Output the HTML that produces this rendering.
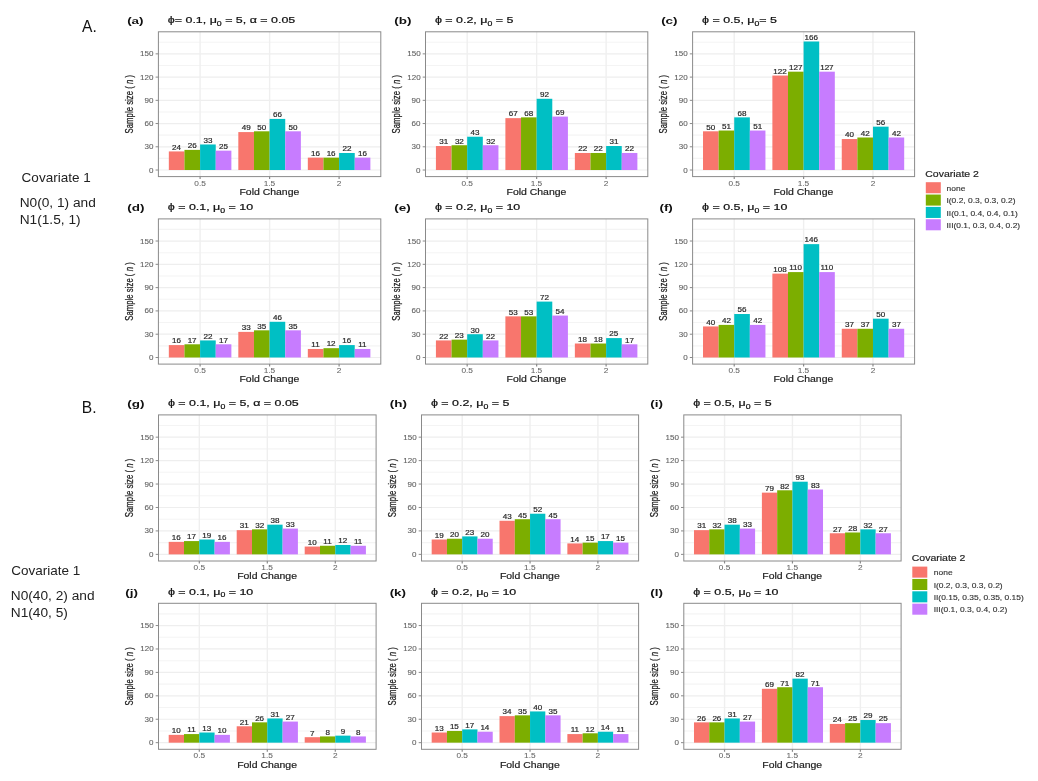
<!DOCTYPE html>
<html><head><meta charset="utf-8"><style>
html,body{margin:0;padding:0;background:#fff;width:1038px;height:781px;overflow:hidden;}
body{position:relative;font-family:"Liberation Sans", sans-serif;}
</style></head><body>
<svg width="1038" height="781" viewBox="0 0 1038 781" style="position:absolute;left:0;top:0;will-change:transform;font-family:'Liberation Sans', sans-serif">
<rect width="1038" height="781" fill="#fff"/>
<rect x="158.4" y="31.8" width="222.4" height="144.79999999999998" fill="#fff"/>
<line x1="158.4" x2="380.8" y1="158.40" y2="158.40" stroke="#f4f4f4" stroke-width="1.1"/>
<line x1="158.4" x2="380.8" y1="135.17" y2="135.17" stroke="#f4f4f4" stroke-width="1.1"/>
<line x1="158.4" x2="380.8" y1="111.94" y2="111.94" stroke="#f4f4f4" stroke-width="1.1"/>
<line x1="158.4" x2="380.8" y1="88.71" y2="88.71" stroke="#f4f4f4" stroke-width="1.1"/>
<line x1="158.4" x2="380.8" y1="65.48" y2="65.48" stroke="#f4f4f4" stroke-width="1.1"/>
<line x1="158.4" x2="380.8" y1="42.25" y2="42.25" stroke="#f4f4f4" stroke-width="1.1"/>
<line x1="158.4" x2="380.8" y1="170.02" y2="170.02" stroke="#eeeeee" stroke-width="1.2"/>
<line x1="158.4" x2="380.8" y1="146.79" y2="146.79" stroke="#eeeeee" stroke-width="1.2"/>
<line x1="158.4" x2="380.8" y1="123.56" y2="123.56" stroke="#eeeeee" stroke-width="1.2"/>
<line x1="158.4" x2="380.8" y1="100.33" y2="100.33" stroke="#eeeeee" stroke-width="1.2"/>
<line x1="158.4" x2="380.8" y1="77.10" y2="77.10" stroke="#eeeeee" stroke-width="1.2"/>
<line x1="158.4" x2="380.8" y1="53.87" y2="53.87" stroke="#eeeeee" stroke-width="1.2"/>
<line x1="200.10" x2="200.10" y1="31.8" y2="176.6" stroke="#efefef" stroke-width="1.4"/>
<line x1="269.60" x2="269.60" y1="31.8" y2="176.6" stroke="#efefef" stroke-width="1.4"/>
<line x1="339.10" x2="339.10" y1="31.8" y2="176.6" stroke="#efefef" stroke-width="1.4"/>
<rect x="168.83" y="151.43" width="15.64" height="18.58" fill="#F8766D"/>
<rect x="184.46" y="149.89" width="15.64" height="20.13" fill="#7CAE00"/>
<rect x="200.10" y="144.47" width="15.64" height="25.55" fill="#00BFC4"/>
<rect x="215.74" y="150.66" width="15.64" height="19.36" fill="#C77CFF"/>
<rect x="238.32" y="132.08" width="15.64" height="37.94" fill="#F8766D"/>
<rect x="253.96" y="131.30" width="15.64" height="38.72" fill="#7CAE00"/>
<rect x="269.60" y="118.91" width="15.64" height="51.11" fill="#00BFC4"/>
<rect x="285.24" y="131.30" width="15.64" height="38.72" fill="#C77CFF"/>
<rect x="307.82" y="157.63" width="15.64" height="12.39" fill="#F8766D"/>
<rect x="323.46" y="157.63" width="15.64" height="12.39" fill="#7CAE00"/>
<rect x="339.10" y="152.98" width="15.64" height="17.04" fill="#00BFC4"/>
<rect x="354.74" y="157.63" width="15.64" height="12.39" fill="#C77CFF"/>
<text transform="translate(172.04,149.73) scale(1.261,1)" style="font-size:6.40px;fill:#2a2a2a;stroke:#2a2a2a;stroke-width:0.18px;" >24</text>
<text transform="translate(187.76,148.19) scale(1.261,1)" style="font-size:6.40px;fill:#2a2a2a;stroke:#2a2a2a;stroke-width:0.18px;" >26</text>
<text transform="translate(203.44,142.77) scale(1.261,1)" style="font-size:6.40px;fill:#2a2a2a;stroke:#2a2a2a;stroke-width:0.18px;" >33</text>
<text transform="translate(219.00,148.96) scale(1.261,1)" style="font-size:6.40px;fill:#2a2a2a;stroke:#2a2a2a;stroke-width:0.18px;" >25</text>
<text transform="translate(241.75,130.38) scale(1.261,1)" style="font-size:6.40px;fill:#2a2a2a;stroke:#2a2a2a;stroke-width:0.18px;" >49</text>
<text transform="translate(257.26,129.60) scale(1.261,1)" style="font-size:6.40px;fill:#2a2a2a;stroke:#2a2a2a;stroke-width:0.18px;" >50</text>
<text transform="translate(272.90,117.21) scale(1.261,1)" style="font-size:6.40px;fill:#2a2a2a;stroke:#2a2a2a;stroke-width:0.18px;" >66</text>
<text transform="translate(288.54,129.60) scale(1.261,1)" style="font-size:6.40px;fill:#2a2a2a;stroke:#2a2a2a;stroke-width:0.18px;" >50</text>
<text transform="translate(311.00,155.93) scale(1.261,1)" style="font-size:6.40px;fill:#2a2a2a;stroke:#2a2a2a;stroke-width:0.18px;" >16</text>
<text transform="translate(326.64,155.93) scale(1.261,1)" style="font-size:6.40px;fill:#2a2a2a;stroke:#2a2a2a;stroke-width:0.18px;" >16</text>
<text transform="translate(342.40,151.28) scale(1.261,1)" style="font-size:6.40px;fill:#2a2a2a;stroke:#2a2a2a;stroke-width:0.18px;" >22</text>
<text transform="translate(357.92,155.93) scale(1.261,1)" style="font-size:6.40px;fill:#2a2a2a;stroke:#2a2a2a;stroke-width:0.18px;" >16</text>
<rect x="158.4" y="31.8" width="222.4" height="144.79999999999998" fill="none" stroke="#8a8a8a" stroke-width="1"/>
<line x1="155.60" x2="158.4" y1="170.02" y2="170.02" stroke="#8a8a8a" stroke-width="1"/>
<text transform="translate(149.01,172.52) scale(1.220,1)" style="font-size:6.60px;fill:#606060;stroke:#606060;stroke-width:0.08px;" >0</text>
<line x1="155.60" x2="158.4" y1="146.79" y2="146.79" stroke="#8a8a8a" stroke-width="1"/>
<text transform="translate(144.50,149.29) scale(1.220,1)" style="font-size:6.60px;fill:#606060;stroke:#606060;stroke-width:0.08px;" >30</text>
<line x1="155.60" x2="158.4" y1="123.56" y2="123.56" stroke="#8a8a8a" stroke-width="1"/>
<text transform="translate(144.50,126.06) scale(1.220,1)" style="font-size:6.60px;fill:#606060;stroke:#606060;stroke-width:0.08px;" >60</text>
<line x1="155.60" x2="158.4" y1="100.33" y2="100.33" stroke="#8a8a8a" stroke-width="1"/>
<text transform="translate(144.50,102.83) scale(1.220,1)" style="font-size:6.60px;fill:#606060;stroke:#606060;stroke-width:0.08px;" >90</text>
<line x1="155.60" x2="158.4" y1="77.10" y2="77.10" stroke="#8a8a8a" stroke-width="1"/>
<text transform="translate(140.08,79.60) scale(1.220,1)" style="font-size:6.60px;fill:#606060;stroke:#606060;stroke-width:0.08px;" >120</text>
<line x1="155.60" x2="158.4" y1="53.87" y2="53.87" stroke="#8a8a8a" stroke-width="1"/>
<text transform="translate(140.08,56.37) scale(1.220,1)" style="font-size:6.60px;fill:#606060;stroke:#606060;stroke-width:0.08px;" >150</text>
<line x1="200.10" x2="200.10" y1="176.6" y2="179.10" stroke="#8a8a8a" stroke-width="1.2"/>
<text transform="translate(194.32,185.60) scale(1.300,1)" style="font-size:6.40px;fill:#666;stroke:#666;stroke-width:0.05px;" >0.5</text>
<line x1="269.60" x2="269.60" y1="176.6" y2="179.10" stroke="#8a8a8a" stroke-width="1.2"/>
<text transform="translate(263.65,185.60) scale(1.300,1)" style="font-size:6.40px;fill:#666;stroke:#666;stroke-width:0.05px;" >1.5</text>
<line x1="339.10" x2="339.10" y1="176.6" y2="179.10" stroke="#8a8a8a" stroke-width="1.2"/>
<text transform="translate(336.77,185.60) scale(1.300,1)" style="font-size:6.40px;fill:#666;stroke:#666;stroke-width:0.05px;" >2</text>
<text transform="translate(239.46,194.90) scale(1.253,1)" style="font-size:8.35px;fill:#222;stroke:#222;stroke-width:0.18px;" >Fold Change</text>
<text transform="translate(132.60,104.20) scale(1.32,1) rotate(-90)" text-anchor="middle" style="font-size:7.8px;fill:#222;stroke:#222;stroke-width:0.2px">Sample size ( <tspan style="font-style:italic">n</tspan> )</text>
<text transform="translate(127.13,24.10) scale(1.416,1)" style="font-size:9.50px;font-weight:bold;fill:#111;" >(a)</text>
<text transform="translate(167.80,23.20) scale(1.270,1)" style="font-size:9.8px;fill:#111;stroke:#111;stroke-width:0.22px"><tspan>ϕ= 0.1, μ</tspan><tspan style="font-size:6.86px" dy="2.35">0</tspan><tspan dy="-2.35"> = 5, α = 0.05</tspan></text>
<rect x="425.5" y="31.8" width="222.29999999999995" height="144.79999999999998" fill="#fff"/>
<line x1="425.5" x2="647.8" y1="158.40" y2="158.40" stroke="#f4f4f4" stroke-width="1.1"/>
<line x1="425.5" x2="647.8" y1="135.17" y2="135.17" stroke="#f4f4f4" stroke-width="1.1"/>
<line x1="425.5" x2="647.8" y1="111.94" y2="111.94" stroke="#f4f4f4" stroke-width="1.1"/>
<line x1="425.5" x2="647.8" y1="88.71" y2="88.71" stroke="#f4f4f4" stroke-width="1.1"/>
<line x1="425.5" x2="647.8" y1="65.48" y2="65.48" stroke="#f4f4f4" stroke-width="1.1"/>
<line x1="425.5" x2="647.8" y1="42.25" y2="42.25" stroke="#f4f4f4" stroke-width="1.1"/>
<line x1="425.5" x2="647.8" y1="170.02" y2="170.02" stroke="#eeeeee" stroke-width="1.2"/>
<line x1="425.5" x2="647.8" y1="146.79" y2="146.79" stroke="#eeeeee" stroke-width="1.2"/>
<line x1="425.5" x2="647.8" y1="123.56" y2="123.56" stroke="#eeeeee" stroke-width="1.2"/>
<line x1="425.5" x2="647.8" y1="100.33" y2="100.33" stroke="#eeeeee" stroke-width="1.2"/>
<line x1="425.5" x2="647.8" y1="77.10" y2="77.10" stroke="#eeeeee" stroke-width="1.2"/>
<line x1="425.5" x2="647.8" y1="53.87" y2="53.87" stroke="#eeeeee" stroke-width="1.2"/>
<line x1="467.18" x2="467.18" y1="31.8" y2="176.6" stroke="#efefef" stroke-width="1.4"/>
<line x1="536.65" x2="536.65" y1="31.8" y2="176.6" stroke="#efefef" stroke-width="1.4"/>
<line x1="606.12" x2="606.12" y1="31.8" y2="176.6" stroke="#efefef" stroke-width="1.4"/>
<rect x="435.92" y="146.01" width="15.63" height="24.00" fill="#F8766D"/>
<rect x="451.55" y="145.24" width="15.63" height="24.78" fill="#7CAE00"/>
<rect x="467.18" y="136.72" width="15.63" height="33.30" fill="#00BFC4"/>
<rect x="482.81" y="145.24" width="15.63" height="24.78" fill="#C77CFF"/>
<rect x="505.39" y="118.14" width="15.63" height="51.88" fill="#F8766D"/>
<rect x="521.02" y="117.36" width="15.63" height="52.65" fill="#7CAE00"/>
<rect x="536.65" y="98.78" width="15.63" height="71.24" fill="#00BFC4"/>
<rect x="552.28" y="116.59" width="15.63" height="53.43" fill="#C77CFF"/>
<rect x="574.86" y="152.98" width="15.63" height="17.04" fill="#F8766D"/>
<rect x="590.49" y="152.98" width="15.63" height="17.04" fill="#7CAE00"/>
<rect x="606.12" y="146.01" width="15.63" height="24.00" fill="#00BFC4"/>
<rect x="621.75" y="152.98" width="15.63" height="17.04" fill="#C77CFF"/>
<text transform="translate(439.26,144.31) scale(1.261,1)" style="font-size:6.40px;fill:#2a2a2a;stroke:#2a2a2a;stroke-width:0.18px;" >31</text>
<text transform="translate(454.89,143.54) scale(1.261,1)" style="font-size:6.40px;fill:#2a2a2a;stroke:#2a2a2a;stroke-width:0.18px;" >32</text>
<text transform="translate(470.60,135.02) scale(1.261,1)" style="font-size:6.40px;fill:#2a2a2a;stroke:#2a2a2a;stroke-width:0.18px;" >43</text>
<text transform="translate(486.15,143.54) scale(1.261,1)" style="font-size:6.40px;fill:#2a2a2a;stroke:#2a2a2a;stroke-width:0.18px;" >32</text>
<text transform="translate(508.68,116.44) scale(1.261,1)" style="font-size:6.40px;fill:#2a2a2a;stroke:#2a2a2a;stroke-width:0.18px;" >67</text>
<text transform="translate(524.32,115.66) scale(1.261,1)" style="font-size:6.40px;fill:#2a2a2a;stroke:#2a2a2a;stroke-width:0.18px;" >68</text>
<text transform="translate(539.95,97.08) scale(1.261,1)" style="font-size:6.40px;fill:#2a2a2a;stroke:#2a2a2a;stroke-width:0.18px;" >92</text>
<text transform="translate(555.58,114.89) scale(1.261,1)" style="font-size:6.40px;fill:#2a2a2a;stroke:#2a2a2a;stroke-width:0.18px;" >69</text>
<text transform="translate(578.15,151.28) scale(1.261,1)" style="font-size:6.40px;fill:#2a2a2a;stroke:#2a2a2a;stroke-width:0.18px;" >22</text>
<text transform="translate(593.78,151.28) scale(1.261,1)" style="font-size:6.40px;fill:#2a2a2a;stroke:#2a2a2a;stroke-width:0.18px;" >22</text>
<text transform="translate(609.45,144.31) scale(1.261,1)" style="font-size:6.40px;fill:#2a2a2a;stroke:#2a2a2a;stroke-width:0.18px;" >31</text>
<text transform="translate(625.05,151.28) scale(1.261,1)" style="font-size:6.40px;fill:#2a2a2a;stroke:#2a2a2a;stroke-width:0.18px;" >22</text>
<rect x="425.5" y="31.8" width="222.29999999999995" height="144.79999999999998" fill="none" stroke="#8a8a8a" stroke-width="1"/>
<line x1="422.70" x2="425.5" y1="170.02" y2="170.02" stroke="#8a8a8a" stroke-width="1"/>
<text transform="translate(416.11,172.52) scale(1.220,1)" style="font-size:6.60px;fill:#606060;stroke:#606060;stroke-width:0.08px;" >0</text>
<line x1="422.70" x2="425.5" y1="146.79" y2="146.79" stroke="#8a8a8a" stroke-width="1"/>
<text transform="translate(411.60,149.29) scale(1.220,1)" style="font-size:6.60px;fill:#606060;stroke:#606060;stroke-width:0.08px;" >30</text>
<line x1="422.70" x2="425.5" y1="123.56" y2="123.56" stroke="#8a8a8a" stroke-width="1"/>
<text transform="translate(411.60,126.06) scale(1.220,1)" style="font-size:6.60px;fill:#606060;stroke:#606060;stroke-width:0.08px;" >60</text>
<line x1="422.70" x2="425.5" y1="100.33" y2="100.33" stroke="#8a8a8a" stroke-width="1"/>
<text transform="translate(411.60,102.83) scale(1.220,1)" style="font-size:6.60px;fill:#606060;stroke:#606060;stroke-width:0.08px;" >90</text>
<line x1="422.70" x2="425.5" y1="77.10" y2="77.10" stroke="#8a8a8a" stroke-width="1"/>
<text transform="translate(407.18,79.60) scale(1.220,1)" style="font-size:6.60px;fill:#606060;stroke:#606060;stroke-width:0.08px;" >120</text>
<line x1="422.70" x2="425.5" y1="53.87" y2="53.87" stroke="#8a8a8a" stroke-width="1"/>
<text transform="translate(407.18,56.37) scale(1.220,1)" style="font-size:6.60px;fill:#606060;stroke:#606060;stroke-width:0.08px;" >150</text>
<line x1="467.18" x2="467.18" y1="176.6" y2="179.10" stroke="#8a8a8a" stroke-width="1.2"/>
<text transform="translate(461.40,185.60) scale(1.300,1)" style="font-size:6.40px;fill:#666;stroke:#666;stroke-width:0.05px;" >0.5</text>
<line x1="536.65" x2="536.65" y1="176.6" y2="179.10" stroke="#8a8a8a" stroke-width="1.2"/>
<text transform="translate(530.70,185.60) scale(1.300,1)" style="font-size:6.40px;fill:#666;stroke:#666;stroke-width:0.05px;" >1.5</text>
<line x1="606.12" x2="606.12" y1="176.6" y2="179.10" stroke="#8a8a8a" stroke-width="1.2"/>
<text transform="translate(603.79,185.60) scale(1.300,1)" style="font-size:6.40px;fill:#666;stroke:#666;stroke-width:0.05px;" >2</text>
<text transform="translate(506.51,194.90) scale(1.253,1)" style="font-size:8.35px;fill:#222;stroke:#222;stroke-width:0.18px;" >Fold Change</text>
<text transform="translate(399.70,104.20) scale(1.32,1) rotate(-90)" text-anchor="middle" style="font-size:7.8px;fill:#222;stroke:#222;stroke-width:0.2px">Sample size ( <tspan style="font-style:italic">n</tspan> )</text>
<text transform="translate(394.33,24.10) scale(1.416,1)" style="font-size:9.50px;font-weight:bold;fill:#111;" >(b)</text>
<text transform="translate(434.90,23.20) scale(1.270,1)" style="font-size:9.8px;fill:#111;stroke:#111;stroke-width:0.22px"><tspan>ϕ = 0.2, μ</tspan><tspan style="font-size:6.86px" dy="2.35">0</tspan><tspan dy="-2.35"> = 5</tspan></text>
<rect x="692.6" y="31.8" width="222.0" height="144.79999999999998" fill="#fff"/>
<line x1="692.6" x2="914.6" y1="158.40" y2="158.40" stroke="#f4f4f4" stroke-width="1.1"/>
<line x1="692.6" x2="914.6" y1="135.17" y2="135.17" stroke="#f4f4f4" stroke-width="1.1"/>
<line x1="692.6" x2="914.6" y1="111.94" y2="111.94" stroke="#f4f4f4" stroke-width="1.1"/>
<line x1="692.6" x2="914.6" y1="88.71" y2="88.71" stroke="#f4f4f4" stroke-width="1.1"/>
<line x1="692.6" x2="914.6" y1="65.48" y2="65.48" stroke="#f4f4f4" stroke-width="1.1"/>
<line x1="692.6" x2="914.6" y1="42.25" y2="42.25" stroke="#f4f4f4" stroke-width="1.1"/>
<line x1="692.6" x2="914.6" y1="170.02" y2="170.02" stroke="#eeeeee" stroke-width="1.2"/>
<line x1="692.6" x2="914.6" y1="146.79" y2="146.79" stroke="#eeeeee" stroke-width="1.2"/>
<line x1="692.6" x2="914.6" y1="123.56" y2="123.56" stroke="#eeeeee" stroke-width="1.2"/>
<line x1="692.6" x2="914.6" y1="100.33" y2="100.33" stroke="#eeeeee" stroke-width="1.2"/>
<line x1="692.6" x2="914.6" y1="77.10" y2="77.10" stroke="#eeeeee" stroke-width="1.2"/>
<line x1="692.6" x2="914.6" y1="53.87" y2="53.87" stroke="#eeeeee" stroke-width="1.2"/>
<line x1="734.23" x2="734.23" y1="31.8" y2="176.6" stroke="#efefef" stroke-width="1.4"/>
<line x1="803.60" x2="803.60" y1="31.8" y2="176.6" stroke="#efefef" stroke-width="1.4"/>
<line x1="872.98" x2="872.98" y1="31.8" y2="176.6" stroke="#efefef" stroke-width="1.4"/>
<rect x="703.01" y="131.30" width="15.61" height="38.72" fill="#F8766D"/>
<rect x="718.62" y="130.53" width="15.61" height="39.49" fill="#7CAE00"/>
<rect x="734.23" y="117.36" width="15.61" height="52.65" fill="#00BFC4"/>
<rect x="749.83" y="130.53" width="15.61" height="39.49" fill="#C77CFF"/>
<rect x="772.38" y="75.55" width="15.61" height="94.47" fill="#F8766D"/>
<rect x="787.99" y="71.68" width="15.61" height="98.34" fill="#7CAE00"/>
<rect x="803.60" y="41.48" width="15.61" height="128.54" fill="#00BFC4"/>
<rect x="819.21" y="71.68" width="15.61" height="98.34" fill="#C77CFF"/>
<rect x="841.76" y="139.04" width="15.61" height="30.97" fill="#F8766D"/>
<rect x="857.37" y="137.50" width="15.61" height="32.52" fill="#7CAE00"/>
<rect x="872.98" y="126.66" width="15.61" height="43.36" fill="#00BFC4"/>
<rect x="888.58" y="137.50" width="15.61" height="32.52" fill="#C77CFF"/>
<text transform="translate(706.29,129.60) scale(1.261,1)" style="font-size:6.40px;fill:#2a2a2a;stroke:#2a2a2a;stroke-width:0.18px;" >50</text>
<text transform="translate(721.94,128.83) scale(1.261,1)" style="font-size:6.40px;fill:#2a2a2a;stroke:#2a2a2a;stroke-width:0.18px;" >51</text>
<text transform="translate(737.51,115.66) scale(1.261,1)" style="font-size:6.40px;fill:#2a2a2a;stroke:#2a2a2a;stroke-width:0.18px;" >68</text>
<text transform="translate(753.16,128.83) scale(1.261,1)" style="font-size:6.40px;fill:#2a2a2a;stroke:#2a2a2a;stroke-width:0.18px;" >51</text>
<text transform="translate(773.33,73.85) scale(1.261,1)" style="font-size:6.40px;fill:#2a2a2a;stroke:#2a2a2a;stroke-width:0.18px;" >122</text>
<text transform="translate(788.94,69.98) scale(1.261,1)" style="font-size:6.40px;fill:#2a2a2a;stroke:#2a2a2a;stroke-width:0.18px;" >127</text>
<text transform="translate(804.54,39.78) scale(1.261,1)" style="font-size:6.40px;fill:#2a2a2a;stroke:#2a2a2a;stroke-width:0.18px;" >166</text>
<text transform="translate(820.15,69.98) scale(1.261,1)" style="font-size:6.40px;fill:#2a2a2a;stroke:#2a2a2a;stroke-width:0.18px;" >127</text>
<text transform="translate(845.12,137.34) scale(1.261,1)" style="font-size:6.40px;fill:#2a2a2a;stroke:#2a2a2a;stroke-width:0.18px;" >40</text>
<text transform="translate(860.77,135.80) scale(1.261,1)" style="font-size:6.40px;fill:#2a2a2a;stroke:#2a2a2a;stroke-width:0.18px;" >42</text>
<text transform="translate(876.30,124.96) scale(1.261,1)" style="font-size:6.40px;fill:#2a2a2a;stroke:#2a2a2a;stroke-width:0.18px;" >56</text>
<text transform="translate(891.99,135.80) scale(1.261,1)" style="font-size:6.40px;fill:#2a2a2a;stroke:#2a2a2a;stroke-width:0.18px;" >42</text>
<rect x="692.6" y="31.8" width="222.0" height="144.79999999999998" fill="none" stroke="#8a8a8a" stroke-width="1"/>
<line x1="689.80" x2="692.6" y1="170.02" y2="170.02" stroke="#8a8a8a" stroke-width="1"/>
<text transform="translate(683.21,172.52) scale(1.220,1)" style="font-size:6.60px;fill:#606060;stroke:#606060;stroke-width:0.08px;" >0</text>
<line x1="689.80" x2="692.6" y1="146.79" y2="146.79" stroke="#8a8a8a" stroke-width="1"/>
<text transform="translate(678.70,149.29) scale(1.220,1)" style="font-size:6.60px;fill:#606060;stroke:#606060;stroke-width:0.08px;" >30</text>
<line x1="689.80" x2="692.6" y1="123.56" y2="123.56" stroke="#8a8a8a" stroke-width="1"/>
<text transform="translate(678.70,126.06) scale(1.220,1)" style="font-size:6.60px;fill:#606060;stroke:#606060;stroke-width:0.08px;" >60</text>
<line x1="689.80" x2="692.6" y1="100.33" y2="100.33" stroke="#8a8a8a" stroke-width="1"/>
<text transform="translate(678.70,102.83) scale(1.220,1)" style="font-size:6.60px;fill:#606060;stroke:#606060;stroke-width:0.08px;" >90</text>
<line x1="689.80" x2="692.6" y1="77.10" y2="77.10" stroke="#8a8a8a" stroke-width="1"/>
<text transform="translate(674.28,79.60) scale(1.220,1)" style="font-size:6.60px;fill:#606060;stroke:#606060;stroke-width:0.08px;" >120</text>
<line x1="689.80" x2="692.6" y1="53.87" y2="53.87" stroke="#8a8a8a" stroke-width="1"/>
<text transform="translate(674.28,56.37) scale(1.220,1)" style="font-size:6.60px;fill:#606060;stroke:#606060;stroke-width:0.08px;" >150</text>
<line x1="734.23" x2="734.23" y1="176.6" y2="179.10" stroke="#8a8a8a" stroke-width="1.2"/>
<text transform="translate(728.44,185.60) scale(1.300,1)" style="font-size:6.40px;fill:#666;stroke:#666;stroke-width:0.05px;" >0.5</text>
<line x1="803.60" x2="803.60" y1="176.6" y2="179.10" stroke="#8a8a8a" stroke-width="1.2"/>
<text transform="translate(797.65,185.60) scale(1.300,1)" style="font-size:6.40px;fill:#666;stroke:#666;stroke-width:0.05px;" >1.5</text>
<line x1="872.98" x2="872.98" y1="176.6" y2="179.10" stroke="#8a8a8a" stroke-width="1.2"/>
<text transform="translate(870.65,185.60) scale(1.300,1)" style="font-size:6.40px;fill:#666;stroke:#666;stroke-width:0.05px;" >2</text>
<text transform="translate(773.46,194.90) scale(1.253,1)" style="font-size:8.35px;fill:#222;stroke:#222;stroke-width:0.18px;" >Fold Change</text>
<text transform="translate(666.80,104.20) scale(1.32,1) rotate(-90)" text-anchor="middle" style="font-size:7.8px;fill:#222;stroke:#222;stroke-width:0.2px">Sample size ( <tspan style="font-style:italic">n</tspan> )</text>
<text transform="translate(661.13,24.10) scale(1.416,1)" style="font-size:9.50px;font-weight:bold;fill:#111;" >(c)</text>
<text transform="translate(702.00,23.20) scale(1.270,1)" style="font-size:9.8px;fill:#111;stroke:#111;stroke-width:0.22px"><tspan>ϕ = 0.5, μ</tspan><tspan style="font-size:6.86px" dy="2.35">0</tspan><tspan dy="-2.35">= 5</tspan></text>
<rect x="158.4" y="218.9" width="222.4" height="145.20000000000002" fill="#fff"/>
<line x1="158.4" x2="380.8" y1="345.85" y2="345.85" stroke="#f4f4f4" stroke-width="1.1"/>
<line x1="158.4" x2="380.8" y1="322.56" y2="322.56" stroke="#f4f4f4" stroke-width="1.1"/>
<line x1="158.4" x2="380.8" y1="299.26" y2="299.26" stroke="#f4f4f4" stroke-width="1.1"/>
<line x1="158.4" x2="380.8" y1="275.97" y2="275.97" stroke="#f4f4f4" stroke-width="1.1"/>
<line x1="158.4" x2="380.8" y1="252.68" y2="252.68" stroke="#f4f4f4" stroke-width="1.1"/>
<line x1="158.4" x2="380.8" y1="229.38" y2="229.38" stroke="#f4f4f4" stroke-width="1.1"/>
<line x1="158.4" x2="380.8" y1="357.50" y2="357.50" stroke="#eeeeee" stroke-width="1.2"/>
<line x1="158.4" x2="380.8" y1="334.21" y2="334.21" stroke="#eeeeee" stroke-width="1.2"/>
<line x1="158.4" x2="380.8" y1="310.91" y2="310.91" stroke="#eeeeee" stroke-width="1.2"/>
<line x1="158.4" x2="380.8" y1="287.62" y2="287.62" stroke="#eeeeee" stroke-width="1.2"/>
<line x1="158.4" x2="380.8" y1="264.32" y2="264.32" stroke="#eeeeee" stroke-width="1.2"/>
<line x1="158.4" x2="380.8" y1="241.03" y2="241.03" stroke="#eeeeee" stroke-width="1.2"/>
<line x1="200.10" x2="200.10" y1="218.9" y2="364.1" stroke="#efefef" stroke-width="1.4"/>
<line x1="269.60" x2="269.60" y1="218.9" y2="364.1" stroke="#efefef" stroke-width="1.4"/>
<line x1="339.10" x2="339.10" y1="218.9" y2="364.1" stroke="#efefef" stroke-width="1.4"/>
<rect x="168.83" y="345.08" width="15.64" height="12.42" fill="#F8766D"/>
<rect x="184.46" y="344.30" width="15.64" height="13.20" fill="#7CAE00"/>
<rect x="200.10" y="340.42" width="15.64" height="17.08" fill="#00BFC4"/>
<rect x="215.74" y="344.30" width="15.64" height="13.20" fill="#C77CFF"/>
<rect x="238.32" y="331.88" width="15.64" height="25.62" fill="#F8766D"/>
<rect x="253.96" y="330.32" width="15.64" height="27.18" fill="#7CAE00"/>
<rect x="269.60" y="321.78" width="15.64" height="35.72" fill="#00BFC4"/>
<rect x="285.24" y="330.32" width="15.64" height="27.18" fill="#C77CFF"/>
<rect x="307.82" y="348.96" width="15.64" height="8.54" fill="#F8766D"/>
<rect x="323.46" y="348.18" width="15.64" height="9.32" fill="#7CAE00"/>
<rect x="339.10" y="345.08" width="15.64" height="12.42" fill="#00BFC4"/>
<rect x="354.74" y="348.96" width="15.64" height="8.54" fill="#C77CFF"/>
<text transform="translate(172.00,343.38) scale(1.261,1)" style="font-size:6.40px;fill:#2a2a2a;stroke:#2a2a2a;stroke-width:0.18px;" >16</text>
<text transform="translate(187.64,342.60) scale(1.261,1)" style="font-size:6.40px;fill:#2a2a2a;stroke:#2a2a2a;stroke-width:0.18px;" >17</text>
<text transform="translate(203.40,338.72) scale(1.261,1)" style="font-size:6.40px;fill:#2a2a2a;stroke:#2a2a2a;stroke-width:0.18px;" >22</text>
<text transform="translate(218.92,342.60) scale(1.261,1)" style="font-size:6.40px;fill:#2a2a2a;stroke:#2a2a2a;stroke-width:0.18px;" >17</text>
<text transform="translate(241.66,330.18) scale(1.261,1)" style="font-size:6.40px;fill:#2a2a2a;stroke:#2a2a2a;stroke-width:0.18px;" >33</text>
<text transform="translate(257.26,328.62) scale(1.261,1)" style="font-size:6.40px;fill:#2a2a2a;stroke:#2a2a2a;stroke-width:0.18px;" >35</text>
<text transform="translate(273.02,320.08) scale(1.261,1)" style="font-size:6.40px;fill:#2a2a2a;stroke:#2a2a2a;stroke-width:0.18px;" >46</text>
<text transform="translate(288.54,328.62) scale(1.261,1)" style="font-size:6.40px;fill:#2a2a2a;stroke:#2a2a2a;stroke-width:0.18px;" >35</text>
<text transform="translate(311.33,347.26) scale(1.261,1)" style="font-size:6.40px;fill:#2a2a2a;stroke:#2a2a2a;stroke-width:0.18px;" >11</text>
<text transform="translate(326.64,346.48) scale(1.261,1)" style="font-size:6.40px;fill:#2a2a2a;stroke:#2a2a2a;stroke-width:0.18px;" >12</text>
<text transform="translate(342.28,343.38) scale(1.261,1)" style="font-size:6.40px;fill:#2a2a2a;stroke:#2a2a2a;stroke-width:0.18px;" >16</text>
<text transform="translate(358.24,347.26) scale(1.261,1)" style="font-size:6.40px;fill:#2a2a2a;stroke:#2a2a2a;stroke-width:0.18px;" >11</text>
<rect x="158.4" y="218.9" width="222.4" height="145.20000000000002" fill="none" stroke="#8a8a8a" stroke-width="1"/>
<line x1="155.60" x2="158.4" y1="357.50" y2="357.50" stroke="#8a8a8a" stroke-width="1"/>
<text transform="translate(149.01,360.00) scale(1.220,1)" style="font-size:6.60px;fill:#606060;stroke:#606060;stroke-width:0.08px;" >0</text>
<line x1="155.60" x2="158.4" y1="334.21" y2="334.21" stroke="#8a8a8a" stroke-width="1"/>
<text transform="translate(144.50,336.71) scale(1.220,1)" style="font-size:6.60px;fill:#606060;stroke:#606060;stroke-width:0.08px;" >30</text>
<line x1="155.60" x2="158.4" y1="310.91" y2="310.91" stroke="#8a8a8a" stroke-width="1"/>
<text transform="translate(144.50,313.41) scale(1.220,1)" style="font-size:6.60px;fill:#606060;stroke:#606060;stroke-width:0.08px;" >60</text>
<line x1="155.60" x2="158.4" y1="287.62" y2="287.62" stroke="#8a8a8a" stroke-width="1"/>
<text transform="translate(144.50,290.12) scale(1.220,1)" style="font-size:6.60px;fill:#606060;stroke:#606060;stroke-width:0.08px;" >90</text>
<line x1="155.60" x2="158.4" y1="264.32" y2="264.32" stroke="#8a8a8a" stroke-width="1"/>
<text transform="translate(140.08,266.82) scale(1.220,1)" style="font-size:6.60px;fill:#606060;stroke:#606060;stroke-width:0.08px;" >120</text>
<line x1="155.60" x2="158.4" y1="241.03" y2="241.03" stroke="#8a8a8a" stroke-width="1"/>
<text transform="translate(140.08,243.53) scale(1.220,1)" style="font-size:6.60px;fill:#606060;stroke:#606060;stroke-width:0.08px;" >150</text>
<line x1="200.10" x2="200.10" y1="364.1" y2="366.60" stroke="#8a8a8a" stroke-width="1.2"/>
<text transform="translate(194.32,373.10) scale(1.300,1)" style="font-size:6.40px;fill:#666;stroke:#666;stroke-width:0.05px;" >0.5</text>
<line x1="269.60" x2="269.60" y1="364.1" y2="366.60" stroke="#8a8a8a" stroke-width="1.2"/>
<text transform="translate(263.65,373.10) scale(1.300,1)" style="font-size:6.40px;fill:#666;stroke:#666;stroke-width:0.05px;" >1.5</text>
<line x1="339.10" x2="339.10" y1="364.1" y2="366.60" stroke="#8a8a8a" stroke-width="1.2"/>
<text transform="translate(336.77,373.10) scale(1.300,1)" style="font-size:6.40px;fill:#666;stroke:#666;stroke-width:0.05px;" >2</text>
<text transform="translate(239.46,382.40) scale(1.253,1)" style="font-size:8.35px;fill:#222;stroke:#222;stroke-width:0.18px;" >Fold Change</text>
<text transform="translate(132.60,291.50) scale(1.32,1) rotate(-90)" text-anchor="middle" style="font-size:7.8px;fill:#222;stroke:#222;stroke-width:0.2px">Sample size ( <tspan style="font-style:italic">n</tspan> )</text>
<text transform="translate(127.23,211.20) scale(1.416,1)" style="font-size:9.50px;font-weight:bold;fill:#111;" >(d)</text>
<text transform="translate(167.80,210.30) scale(1.270,1)" style="font-size:9.8px;fill:#111;stroke:#111;stroke-width:0.22px"><tspan>ϕ = 0.1, μ</tspan><tspan style="font-size:6.86px" dy="2.35">0</tspan><tspan dy="-2.35"> = 10</tspan></text>
<rect x="425.5" y="218.9" width="222.29999999999995" height="145.20000000000002" fill="#fff"/>
<line x1="425.5" x2="647.8" y1="345.85" y2="345.85" stroke="#f4f4f4" stroke-width="1.1"/>
<line x1="425.5" x2="647.8" y1="322.56" y2="322.56" stroke="#f4f4f4" stroke-width="1.1"/>
<line x1="425.5" x2="647.8" y1="299.26" y2="299.26" stroke="#f4f4f4" stroke-width="1.1"/>
<line x1="425.5" x2="647.8" y1="275.97" y2="275.97" stroke="#f4f4f4" stroke-width="1.1"/>
<line x1="425.5" x2="647.8" y1="252.68" y2="252.68" stroke="#f4f4f4" stroke-width="1.1"/>
<line x1="425.5" x2="647.8" y1="229.38" y2="229.38" stroke="#f4f4f4" stroke-width="1.1"/>
<line x1="425.5" x2="647.8" y1="357.50" y2="357.50" stroke="#eeeeee" stroke-width="1.2"/>
<line x1="425.5" x2="647.8" y1="334.21" y2="334.21" stroke="#eeeeee" stroke-width="1.2"/>
<line x1="425.5" x2="647.8" y1="310.91" y2="310.91" stroke="#eeeeee" stroke-width="1.2"/>
<line x1="425.5" x2="647.8" y1="287.62" y2="287.62" stroke="#eeeeee" stroke-width="1.2"/>
<line x1="425.5" x2="647.8" y1="264.32" y2="264.32" stroke="#eeeeee" stroke-width="1.2"/>
<line x1="425.5" x2="647.8" y1="241.03" y2="241.03" stroke="#eeeeee" stroke-width="1.2"/>
<line x1="467.18" x2="467.18" y1="218.9" y2="364.1" stroke="#efefef" stroke-width="1.4"/>
<line x1="536.65" x2="536.65" y1="218.9" y2="364.1" stroke="#efefef" stroke-width="1.4"/>
<line x1="606.12" x2="606.12" y1="218.9" y2="364.1" stroke="#efefef" stroke-width="1.4"/>
<rect x="435.92" y="340.42" width="15.63" height="17.08" fill="#F8766D"/>
<rect x="451.55" y="339.64" width="15.63" height="17.86" fill="#7CAE00"/>
<rect x="467.18" y="334.21" width="15.63" height="23.29" fill="#00BFC4"/>
<rect x="482.81" y="340.42" width="15.63" height="17.08" fill="#C77CFF"/>
<rect x="505.39" y="316.35" width="15.63" height="41.15" fill="#F8766D"/>
<rect x="521.02" y="316.35" width="15.63" height="41.15" fill="#7CAE00"/>
<rect x="536.65" y="301.59" width="15.63" height="55.91" fill="#00BFC4"/>
<rect x="552.28" y="315.57" width="15.63" height="41.93" fill="#C77CFF"/>
<rect x="574.86" y="343.52" width="15.63" height="13.98" fill="#F8766D"/>
<rect x="590.49" y="343.52" width="15.63" height="13.98" fill="#7CAE00"/>
<rect x="606.12" y="338.09" width="15.63" height="19.41" fill="#00BFC4"/>
<rect x="621.75" y="344.30" width="15.63" height="13.20" fill="#C77CFF"/>
<text transform="translate(439.22,338.72) scale(1.261,1)" style="font-size:6.40px;fill:#2a2a2a;stroke:#2a2a2a;stroke-width:0.18px;" >22</text>
<text transform="translate(454.85,337.94) scale(1.261,1)" style="font-size:6.40px;fill:#2a2a2a;stroke:#2a2a2a;stroke-width:0.18px;" >23</text>
<text transform="translate(470.48,332.51) scale(1.261,1)" style="font-size:6.40px;fill:#2a2a2a;stroke:#2a2a2a;stroke-width:0.18px;" >30</text>
<text transform="translate(486.11,338.72) scale(1.261,1)" style="font-size:6.40px;fill:#2a2a2a;stroke:#2a2a2a;stroke-width:0.18px;" >22</text>
<text transform="translate(508.73,314.65) scale(1.261,1)" style="font-size:6.40px;fill:#2a2a2a;stroke:#2a2a2a;stroke-width:0.18px;" >53</text>
<text transform="translate(524.36,314.65) scale(1.261,1)" style="font-size:6.40px;fill:#2a2a2a;stroke:#2a2a2a;stroke-width:0.18px;" >53</text>
<text transform="translate(539.95,299.89) scale(1.261,1)" style="font-size:6.40px;fill:#2a2a2a;stroke:#2a2a2a;stroke-width:0.18px;" >72</text>
<text transform="translate(555.54,313.87) scale(1.261,1)" style="font-size:6.40px;fill:#2a2a2a;stroke:#2a2a2a;stroke-width:0.18px;" >54</text>
<text transform="translate(578.03,341.82) scale(1.261,1)" style="font-size:6.40px;fill:#2a2a2a;stroke:#2a2a2a;stroke-width:0.18px;" >18</text>
<text transform="translate(593.66,341.82) scale(1.261,1)" style="font-size:6.40px;fill:#2a2a2a;stroke:#2a2a2a;stroke-width:0.18px;" >18</text>
<text transform="translate(609.37,336.39) scale(1.261,1)" style="font-size:6.40px;fill:#2a2a2a;stroke:#2a2a2a;stroke-width:0.18px;" >25</text>
<text transform="translate(624.92,342.60) scale(1.261,1)" style="font-size:6.40px;fill:#2a2a2a;stroke:#2a2a2a;stroke-width:0.18px;" >17</text>
<rect x="425.5" y="218.9" width="222.29999999999995" height="145.20000000000002" fill="none" stroke="#8a8a8a" stroke-width="1"/>
<line x1="422.70" x2="425.5" y1="357.50" y2="357.50" stroke="#8a8a8a" stroke-width="1"/>
<text transform="translate(416.11,360.00) scale(1.220,1)" style="font-size:6.60px;fill:#606060;stroke:#606060;stroke-width:0.08px;" >0</text>
<line x1="422.70" x2="425.5" y1="334.21" y2="334.21" stroke="#8a8a8a" stroke-width="1"/>
<text transform="translate(411.60,336.71) scale(1.220,1)" style="font-size:6.60px;fill:#606060;stroke:#606060;stroke-width:0.08px;" >30</text>
<line x1="422.70" x2="425.5" y1="310.91" y2="310.91" stroke="#8a8a8a" stroke-width="1"/>
<text transform="translate(411.60,313.41) scale(1.220,1)" style="font-size:6.60px;fill:#606060;stroke:#606060;stroke-width:0.08px;" >60</text>
<line x1="422.70" x2="425.5" y1="287.62" y2="287.62" stroke="#8a8a8a" stroke-width="1"/>
<text transform="translate(411.60,290.12) scale(1.220,1)" style="font-size:6.60px;fill:#606060;stroke:#606060;stroke-width:0.08px;" >90</text>
<line x1="422.70" x2="425.5" y1="264.32" y2="264.32" stroke="#8a8a8a" stroke-width="1"/>
<text transform="translate(407.18,266.82) scale(1.220,1)" style="font-size:6.60px;fill:#606060;stroke:#606060;stroke-width:0.08px;" >120</text>
<line x1="422.70" x2="425.5" y1="241.03" y2="241.03" stroke="#8a8a8a" stroke-width="1"/>
<text transform="translate(407.18,243.53) scale(1.220,1)" style="font-size:6.60px;fill:#606060;stroke:#606060;stroke-width:0.08px;" >150</text>
<line x1="467.18" x2="467.18" y1="364.1" y2="366.60" stroke="#8a8a8a" stroke-width="1.2"/>
<text transform="translate(461.40,373.10) scale(1.300,1)" style="font-size:6.40px;fill:#666;stroke:#666;stroke-width:0.05px;" >0.5</text>
<line x1="536.65" x2="536.65" y1="364.1" y2="366.60" stroke="#8a8a8a" stroke-width="1.2"/>
<text transform="translate(530.70,373.10) scale(1.300,1)" style="font-size:6.40px;fill:#666;stroke:#666;stroke-width:0.05px;" >1.5</text>
<line x1="606.12" x2="606.12" y1="364.1" y2="366.60" stroke="#8a8a8a" stroke-width="1.2"/>
<text transform="translate(603.79,373.10) scale(1.300,1)" style="font-size:6.40px;fill:#666;stroke:#666;stroke-width:0.05px;" >2</text>
<text transform="translate(506.51,382.40) scale(1.253,1)" style="font-size:8.35px;fill:#222;stroke:#222;stroke-width:0.18px;" >Fold Change</text>
<text transform="translate(399.70,291.50) scale(1.32,1) rotate(-90)" text-anchor="middle" style="font-size:7.8px;fill:#222;stroke:#222;stroke-width:0.2px">Sample size ( <tspan style="font-style:italic">n</tspan> )</text>
<text transform="translate(394.23,211.20) scale(1.416,1)" style="font-size:9.50px;font-weight:bold;fill:#111;" >(e)</text>
<text transform="translate(434.90,210.30) scale(1.270,1)" style="font-size:9.8px;fill:#111;stroke:#111;stroke-width:0.22px"><tspan>ϕ = 0.2, μ</tspan><tspan style="font-size:6.86px" dy="2.35">0</tspan><tspan dy="-2.35"> = 10</tspan></text>
<rect x="692.6" y="218.9" width="222.0" height="145.20000000000002" fill="#fff"/>
<line x1="692.6" x2="914.6" y1="345.85" y2="345.85" stroke="#f4f4f4" stroke-width="1.1"/>
<line x1="692.6" x2="914.6" y1="322.56" y2="322.56" stroke="#f4f4f4" stroke-width="1.1"/>
<line x1="692.6" x2="914.6" y1="299.26" y2="299.26" stroke="#f4f4f4" stroke-width="1.1"/>
<line x1="692.6" x2="914.6" y1="275.97" y2="275.97" stroke="#f4f4f4" stroke-width="1.1"/>
<line x1="692.6" x2="914.6" y1="252.68" y2="252.68" stroke="#f4f4f4" stroke-width="1.1"/>
<line x1="692.6" x2="914.6" y1="229.38" y2="229.38" stroke="#f4f4f4" stroke-width="1.1"/>
<line x1="692.6" x2="914.6" y1="357.50" y2="357.50" stroke="#eeeeee" stroke-width="1.2"/>
<line x1="692.6" x2="914.6" y1="334.21" y2="334.21" stroke="#eeeeee" stroke-width="1.2"/>
<line x1="692.6" x2="914.6" y1="310.91" y2="310.91" stroke="#eeeeee" stroke-width="1.2"/>
<line x1="692.6" x2="914.6" y1="287.62" y2="287.62" stroke="#eeeeee" stroke-width="1.2"/>
<line x1="692.6" x2="914.6" y1="264.32" y2="264.32" stroke="#eeeeee" stroke-width="1.2"/>
<line x1="692.6" x2="914.6" y1="241.03" y2="241.03" stroke="#eeeeee" stroke-width="1.2"/>
<line x1="734.23" x2="734.23" y1="218.9" y2="364.1" stroke="#efefef" stroke-width="1.4"/>
<line x1="803.60" x2="803.60" y1="218.9" y2="364.1" stroke="#efefef" stroke-width="1.4"/>
<line x1="872.98" x2="872.98" y1="218.9" y2="364.1" stroke="#efefef" stroke-width="1.4"/>
<rect x="703.01" y="326.44" width="15.61" height="31.06" fill="#F8766D"/>
<rect x="718.62" y="324.89" width="15.61" height="32.61" fill="#7CAE00"/>
<rect x="734.23" y="314.02" width="15.61" height="43.48" fill="#00BFC4"/>
<rect x="749.83" y="324.89" width="15.61" height="32.61" fill="#C77CFF"/>
<rect x="772.38" y="273.64" width="15.61" height="83.86" fill="#F8766D"/>
<rect x="787.99" y="272.09" width="15.61" height="85.41" fill="#7CAE00"/>
<rect x="803.60" y="244.14" width="15.61" height="113.36" fill="#00BFC4"/>
<rect x="819.21" y="272.09" width="15.61" height="85.41" fill="#C77CFF"/>
<rect x="841.76" y="328.77" width="15.61" height="28.73" fill="#F8766D"/>
<rect x="857.37" y="328.77" width="15.61" height="28.73" fill="#7CAE00"/>
<rect x="872.98" y="318.68" width="15.61" height="38.82" fill="#00BFC4"/>
<rect x="888.58" y="328.77" width="15.61" height="28.73" fill="#C77CFF"/>
<text transform="translate(706.37,324.74) scale(1.261,1)" style="font-size:6.40px;fill:#2a2a2a;stroke:#2a2a2a;stroke-width:0.18px;" >40</text>
<text transform="translate(722.02,323.19) scale(1.261,1)" style="font-size:6.40px;fill:#2a2a2a;stroke:#2a2a2a;stroke-width:0.18px;" >42</text>
<text transform="translate(737.55,312.32) scale(1.261,1)" style="font-size:6.40px;fill:#2a2a2a;stroke:#2a2a2a;stroke-width:0.18px;" >56</text>
<text transform="translate(753.24,323.19) scale(1.261,1)" style="font-size:6.40px;fill:#2a2a2a;stroke:#2a2a2a;stroke-width:0.18px;" >42</text>
<text transform="translate(773.33,271.94) scale(1.261,1)" style="font-size:6.40px;fill:#2a2a2a;stroke:#2a2a2a;stroke-width:0.18px;" >108</text>
<text transform="translate(789.18,270.39) scale(1.261,1)" style="font-size:6.40px;fill:#2a2a2a;stroke:#2a2a2a;stroke-width:0.18px;" >110</text>
<text transform="translate(804.54,242.44) scale(1.261,1)" style="font-size:6.40px;fill:#2a2a2a;stroke:#2a2a2a;stroke-width:0.18px;" >146</text>
<text transform="translate(820.40,270.39) scale(1.261,1)" style="font-size:6.40px;fill:#2a2a2a;stroke:#2a2a2a;stroke-width:0.18px;" >110</text>
<text transform="translate(845.08,327.07) scale(1.261,1)" style="font-size:6.40px;fill:#2a2a2a;stroke:#2a2a2a;stroke-width:0.18px;" >37</text>
<text transform="translate(860.69,327.07) scale(1.261,1)" style="font-size:6.40px;fill:#2a2a2a;stroke:#2a2a2a;stroke-width:0.18px;" >37</text>
<text transform="translate(876.26,316.98) scale(1.261,1)" style="font-size:6.40px;fill:#2a2a2a;stroke:#2a2a2a;stroke-width:0.18px;" >50</text>
<text transform="translate(891.91,327.07) scale(1.261,1)" style="font-size:6.40px;fill:#2a2a2a;stroke:#2a2a2a;stroke-width:0.18px;" >37</text>
<rect x="692.6" y="218.9" width="222.0" height="145.20000000000002" fill="none" stroke="#8a8a8a" stroke-width="1"/>
<line x1="689.80" x2="692.6" y1="357.50" y2="357.50" stroke="#8a8a8a" stroke-width="1"/>
<text transform="translate(683.21,360.00) scale(1.220,1)" style="font-size:6.60px;fill:#606060;stroke:#606060;stroke-width:0.08px;" >0</text>
<line x1="689.80" x2="692.6" y1="334.21" y2="334.21" stroke="#8a8a8a" stroke-width="1"/>
<text transform="translate(678.70,336.71) scale(1.220,1)" style="font-size:6.60px;fill:#606060;stroke:#606060;stroke-width:0.08px;" >30</text>
<line x1="689.80" x2="692.6" y1="310.91" y2="310.91" stroke="#8a8a8a" stroke-width="1"/>
<text transform="translate(678.70,313.41) scale(1.220,1)" style="font-size:6.60px;fill:#606060;stroke:#606060;stroke-width:0.08px;" >60</text>
<line x1="689.80" x2="692.6" y1="287.62" y2="287.62" stroke="#8a8a8a" stroke-width="1"/>
<text transform="translate(678.70,290.12) scale(1.220,1)" style="font-size:6.60px;fill:#606060;stroke:#606060;stroke-width:0.08px;" >90</text>
<line x1="689.80" x2="692.6" y1="264.32" y2="264.32" stroke="#8a8a8a" stroke-width="1"/>
<text transform="translate(674.28,266.82) scale(1.220,1)" style="font-size:6.60px;fill:#606060;stroke:#606060;stroke-width:0.08px;" >120</text>
<line x1="689.80" x2="692.6" y1="241.03" y2="241.03" stroke="#8a8a8a" stroke-width="1"/>
<text transform="translate(674.28,243.53) scale(1.220,1)" style="font-size:6.60px;fill:#606060;stroke:#606060;stroke-width:0.08px;" >150</text>
<line x1="734.23" x2="734.23" y1="364.1" y2="366.60" stroke="#8a8a8a" stroke-width="1.2"/>
<text transform="translate(728.44,373.10) scale(1.300,1)" style="font-size:6.40px;fill:#666;stroke:#666;stroke-width:0.05px;" >0.5</text>
<line x1="803.60" x2="803.60" y1="364.1" y2="366.60" stroke="#8a8a8a" stroke-width="1.2"/>
<text transform="translate(797.65,373.10) scale(1.300,1)" style="font-size:6.40px;fill:#666;stroke:#666;stroke-width:0.05px;" >1.5</text>
<line x1="872.98" x2="872.98" y1="364.1" y2="366.60" stroke="#8a8a8a" stroke-width="1.2"/>
<text transform="translate(870.65,373.10) scale(1.300,1)" style="font-size:6.40px;fill:#666;stroke:#666;stroke-width:0.05px;" >2</text>
<text transform="translate(773.46,382.40) scale(1.253,1)" style="font-size:8.35px;fill:#222;stroke:#222;stroke-width:0.18px;" >Fold Change</text>
<text transform="translate(666.80,291.50) scale(1.32,1) rotate(-90)" text-anchor="middle" style="font-size:7.8px;fill:#222;stroke:#222;stroke-width:0.2px">Sample size ( <tspan style="font-style:italic">n</tspan> )</text>
<text transform="translate(659.43,211.20) scale(1.416,1)" style="font-size:9.50px;font-weight:bold;fill:#111;" >(f)</text>
<text transform="translate(702.00,210.30) scale(1.270,1)" style="font-size:9.8px;fill:#111;stroke:#111;stroke-width:0.22px"><tspan>ϕ = 0.5, μ</tspan><tspan style="font-size:6.86px" dy="2.35">0</tspan><tspan dy="-2.35"> = 10</tspan></text>
<rect x="158.5" y="414.9" width="217.60000000000002" height="146.10000000000002" fill="#fff"/>
<line x1="158.5" x2="376.1" y1="542.64" y2="542.64" stroke="#f4f4f4" stroke-width="1.1"/>
<line x1="158.5" x2="376.1" y1="519.20" y2="519.20" stroke="#f4f4f4" stroke-width="1.1"/>
<line x1="158.5" x2="376.1" y1="495.76" y2="495.76" stroke="#f4f4f4" stroke-width="1.1"/>
<line x1="158.5" x2="376.1" y1="472.32" y2="472.32" stroke="#f4f4f4" stroke-width="1.1"/>
<line x1="158.5" x2="376.1" y1="448.89" y2="448.89" stroke="#f4f4f4" stroke-width="1.1"/>
<line x1="158.5" x2="376.1" y1="425.45" y2="425.45" stroke="#f4f4f4" stroke-width="1.1"/>
<line x1="158.5" x2="376.1" y1="554.36" y2="554.36" stroke="#eeeeee" stroke-width="1.2"/>
<line x1="158.5" x2="376.1" y1="530.92" y2="530.92" stroke="#eeeeee" stroke-width="1.2"/>
<line x1="158.5" x2="376.1" y1="507.48" y2="507.48" stroke="#eeeeee" stroke-width="1.2"/>
<line x1="158.5" x2="376.1" y1="484.04" y2="484.04" stroke="#eeeeee" stroke-width="1.2"/>
<line x1="158.5" x2="376.1" y1="460.61" y2="460.61" stroke="#eeeeee" stroke-width="1.2"/>
<line x1="158.5" x2="376.1" y1="437.17" y2="437.17" stroke="#eeeeee" stroke-width="1.2"/>
<line x1="199.30" x2="199.30" y1="414.9" y2="561.0" stroke="#efefef" stroke-width="1.4"/>
<line x1="267.30" x2="267.30" y1="414.9" y2="561.0" stroke="#efefef" stroke-width="1.4"/>
<line x1="335.30" x2="335.30" y1="414.9" y2="561.0" stroke="#efefef" stroke-width="1.4"/>
<rect x="168.70" y="541.86" width="15.30" height="12.50" fill="#F8766D"/>
<rect x="184.00" y="541.08" width="15.30" height="13.28" fill="#7CAE00"/>
<rect x="199.30" y="539.51" width="15.30" height="14.84" fill="#00BFC4"/>
<rect x="214.60" y="541.86" width="15.30" height="12.50" fill="#C77CFF"/>
<rect x="236.70" y="530.14" width="15.30" height="24.22" fill="#F8766D"/>
<rect x="252.00" y="529.36" width="15.30" height="25.00" fill="#7CAE00"/>
<rect x="267.30" y="524.67" width="15.30" height="29.69" fill="#00BFC4"/>
<rect x="282.60" y="528.58" width="15.30" height="25.78" fill="#C77CFF"/>
<rect x="304.70" y="546.55" width="15.30" height="7.81" fill="#F8766D"/>
<rect x="320.00" y="545.76" width="15.30" height="8.59" fill="#7CAE00"/>
<rect x="335.30" y="544.98" width="15.30" height="9.38" fill="#00BFC4"/>
<rect x="350.60" y="545.76" width="15.30" height="8.59" fill="#C77CFF"/>
<text transform="translate(171.71,540.16) scale(1.261,1)" style="font-size:6.40px;fill:#2a2a2a;stroke:#2a2a2a;stroke-width:0.18px;" >16</text>
<text transform="translate(187.01,539.38) scale(1.261,1)" style="font-size:6.40px;fill:#2a2a2a;stroke:#2a2a2a;stroke-width:0.18px;" >17</text>
<text transform="translate(202.31,537.81) scale(1.261,1)" style="font-size:6.40px;fill:#2a2a2a;stroke:#2a2a2a;stroke-width:0.18px;" >19</text>
<text transform="translate(217.61,540.16) scale(1.261,1)" style="font-size:6.40px;fill:#2a2a2a;stroke:#2a2a2a;stroke-width:0.18px;" >16</text>
<text transform="translate(239.87,528.44) scale(1.261,1)" style="font-size:6.40px;fill:#2a2a2a;stroke:#2a2a2a;stroke-width:0.18px;" >31</text>
<text transform="translate(255.17,527.66) scale(1.261,1)" style="font-size:6.40px;fill:#2a2a2a;stroke:#2a2a2a;stroke-width:0.18px;" >32</text>
<text transform="translate(270.47,522.97) scale(1.261,1)" style="font-size:6.40px;fill:#2a2a2a;stroke:#2a2a2a;stroke-width:0.18px;" >38</text>
<text transform="translate(285.77,526.88) scale(1.261,1)" style="font-size:6.40px;fill:#2a2a2a;stroke:#2a2a2a;stroke-width:0.18px;" >33</text>
<text transform="translate(307.67,544.85) scale(1.261,1)" style="font-size:6.40px;fill:#2a2a2a;stroke:#2a2a2a;stroke-width:0.18px;" >10</text>
<text transform="translate(323.33,544.06) scale(1.261,1)" style="font-size:6.40px;fill:#2a2a2a;stroke:#2a2a2a;stroke-width:0.18px;" >11</text>
<text transform="translate(338.31,543.28) scale(1.261,1)" style="font-size:6.40px;fill:#2a2a2a;stroke:#2a2a2a;stroke-width:0.18px;" >12</text>
<text transform="translate(353.93,544.06) scale(1.261,1)" style="font-size:6.40px;fill:#2a2a2a;stroke:#2a2a2a;stroke-width:0.18px;" >11</text>
<rect x="158.5" y="414.9" width="217.60000000000002" height="146.10000000000002" fill="none" stroke="#8a8a8a" stroke-width="1"/>
<line x1="155.70" x2="158.5" y1="554.36" y2="554.36" stroke="#8a8a8a" stroke-width="1"/>
<text transform="translate(149.11,556.86) scale(1.220,1)" style="font-size:6.60px;fill:#606060;stroke:#606060;stroke-width:0.08px;" >0</text>
<line x1="155.70" x2="158.5" y1="530.92" y2="530.92" stroke="#8a8a8a" stroke-width="1"/>
<text transform="translate(144.60,533.42) scale(1.220,1)" style="font-size:6.60px;fill:#606060;stroke:#606060;stroke-width:0.08px;" >30</text>
<line x1="155.70" x2="158.5" y1="507.48" y2="507.48" stroke="#8a8a8a" stroke-width="1"/>
<text transform="translate(144.60,509.98) scale(1.220,1)" style="font-size:6.60px;fill:#606060;stroke:#606060;stroke-width:0.08px;" >60</text>
<line x1="155.70" x2="158.5" y1="484.04" y2="484.04" stroke="#8a8a8a" stroke-width="1"/>
<text transform="translate(144.60,486.54) scale(1.220,1)" style="font-size:6.60px;fill:#606060;stroke:#606060;stroke-width:0.08px;" >90</text>
<line x1="155.70" x2="158.5" y1="460.61" y2="460.61" stroke="#8a8a8a" stroke-width="1"/>
<text transform="translate(140.18,463.11) scale(1.220,1)" style="font-size:6.60px;fill:#606060;stroke:#606060;stroke-width:0.08px;" >120</text>
<line x1="155.70" x2="158.5" y1="437.17" y2="437.17" stroke="#8a8a8a" stroke-width="1"/>
<text transform="translate(140.18,439.67) scale(1.220,1)" style="font-size:6.60px;fill:#606060;stroke:#606060;stroke-width:0.08px;" >150</text>
<line x1="199.30" x2="199.30" y1="561.0" y2="563.50" stroke="#8a8a8a" stroke-width="1.2"/>
<text transform="translate(193.52,570.00) scale(1.300,1)" style="font-size:6.40px;fill:#666;stroke:#666;stroke-width:0.05px;" >0.5</text>
<line x1="267.30" x2="267.30" y1="561.0" y2="563.50" stroke="#8a8a8a" stroke-width="1.2"/>
<text transform="translate(261.35,570.00) scale(1.300,1)" style="font-size:6.40px;fill:#666;stroke:#666;stroke-width:0.05px;" >1.5</text>
<line x1="335.30" x2="335.30" y1="561.0" y2="563.50" stroke="#8a8a8a" stroke-width="1.2"/>
<text transform="translate(332.97,570.00) scale(1.300,1)" style="font-size:6.40px;fill:#666;stroke:#666;stroke-width:0.05px;" >2</text>
<text transform="translate(237.16,579.30) scale(1.253,1)" style="font-size:8.35px;fill:#222;stroke:#222;stroke-width:0.18px;" >Fold Change</text>
<text transform="translate(132.70,487.95) scale(1.32,1) rotate(-90)" text-anchor="middle" style="font-size:7.8px;fill:#222;stroke:#222;stroke-width:0.2px">Sample size ( <tspan style="font-style:italic">n</tspan> )</text>
<text transform="translate(127.23,407.20) scale(1.416,1)" style="font-size:9.50px;font-weight:bold;fill:#111;" >(g)</text>
<text transform="translate(167.90,406.30) scale(1.270,1)" style="font-size:9.8px;fill:#111;stroke:#111;stroke-width:0.22px"><tspan>ϕ = 0.1, μ</tspan><tspan style="font-size:6.86px" dy="2.35">0</tspan><tspan dy="-2.35"> = 5, α = 0.05</tspan></text>
<rect x="421.5" y="414.9" width="217.10000000000002" height="146.10000000000002" fill="#fff"/>
<line x1="421.5" x2="638.6" y1="542.64" y2="542.64" stroke="#f4f4f4" stroke-width="1.1"/>
<line x1="421.5" x2="638.6" y1="519.20" y2="519.20" stroke="#f4f4f4" stroke-width="1.1"/>
<line x1="421.5" x2="638.6" y1="495.76" y2="495.76" stroke="#f4f4f4" stroke-width="1.1"/>
<line x1="421.5" x2="638.6" y1="472.32" y2="472.32" stroke="#f4f4f4" stroke-width="1.1"/>
<line x1="421.5" x2="638.6" y1="448.89" y2="448.89" stroke="#f4f4f4" stroke-width="1.1"/>
<line x1="421.5" x2="638.6" y1="425.45" y2="425.45" stroke="#f4f4f4" stroke-width="1.1"/>
<line x1="421.5" x2="638.6" y1="554.36" y2="554.36" stroke="#eeeeee" stroke-width="1.2"/>
<line x1="421.5" x2="638.6" y1="530.92" y2="530.92" stroke="#eeeeee" stroke-width="1.2"/>
<line x1="421.5" x2="638.6" y1="507.48" y2="507.48" stroke="#eeeeee" stroke-width="1.2"/>
<line x1="421.5" x2="638.6" y1="484.04" y2="484.04" stroke="#eeeeee" stroke-width="1.2"/>
<line x1="421.5" x2="638.6" y1="460.61" y2="460.61" stroke="#eeeeee" stroke-width="1.2"/>
<line x1="421.5" x2="638.6" y1="437.17" y2="437.17" stroke="#eeeeee" stroke-width="1.2"/>
<line x1="462.21" x2="462.21" y1="414.9" y2="561.0" stroke="#efefef" stroke-width="1.4"/>
<line x1="530.05" x2="530.05" y1="414.9" y2="561.0" stroke="#efefef" stroke-width="1.4"/>
<line x1="597.89" x2="597.89" y1="414.9" y2="561.0" stroke="#efefef" stroke-width="1.4"/>
<rect x="431.68" y="539.51" width="15.26" height="14.84" fill="#F8766D"/>
<rect x="446.94" y="538.73" width="15.26" height="15.63" fill="#7CAE00"/>
<rect x="462.21" y="536.39" width="15.26" height="17.97" fill="#00BFC4"/>
<rect x="477.47" y="538.73" width="15.26" height="15.63" fill="#C77CFF"/>
<rect x="499.52" y="520.76" width="15.26" height="33.60" fill="#F8766D"/>
<rect x="514.79" y="519.20" width="15.26" height="35.16" fill="#7CAE00"/>
<rect x="530.05" y="513.73" width="15.26" height="40.63" fill="#00BFC4"/>
<rect x="545.31" y="519.20" width="15.26" height="35.16" fill="#C77CFF"/>
<rect x="567.36" y="543.42" width="15.26" height="10.94" fill="#F8766D"/>
<rect x="582.63" y="542.64" width="15.26" height="11.72" fill="#7CAE00"/>
<rect x="597.89" y="541.08" width="15.26" height="13.28" fill="#00BFC4"/>
<rect x="613.16" y="542.64" width="15.26" height="11.72" fill="#C77CFF"/>
<text transform="translate(434.67,537.81) scale(1.261,1)" style="font-size:6.40px;fill:#2a2a2a;stroke:#2a2a2a;stroke-width:0.18px;" >19</text>
<text transform="translate(450.01,537.03) scale(1.261,1)" style="font-size:6.40px;fill:#2a2a2a;stroke:#2a2a2a;stroke-width:0.18px;" >20</text>
<text transform="translate(465.32,534.69) scale(1.261,1)" style="font-size:6.40px;fill:#2a2a2a;stroke:#2a2a2a;stroke-width:0.18px;" >23</text>
<text transform="translate(480.54,537.03) scale(1.261,1)" style="font-size:6.40px;fill:#2a2a2a;stroke:#2a2a2a;stroke-width:0.18px;" >20</text>
<text transform="translate(502.75,519.06) scale(1.261,1)" style="font-size:6.40px;fill:#2a2a2a;stroke:#2a2a2a;stroke-width:0.18px;" >43</text>
<text transform="translate(517.98,517.50) scale(1.261,1)" style="font-size:6.40px;fill:#2a2a2a;stroke:#2a2a2a;stroke-width:0.18px;" >45</text>
<text transform="translate(533.20,512.03) scale(1.261,1)" style="font-size:6.40px;fill:#2a2a2a;stroke:#2a2a2a;stroke-width:0.18px;" >52</text>
<text transform="translate(548.51,517.50) scale(1.261,1)" style="font-size:6.40px;fill:#2a2a2a;stroke:#2a2a2a;stroke-width:0.18px;" >45</text>
<text transform="translate(570.28,541.72) scale(1.261,1)" style="font-size:6.40px;fill:#2a2a2a;stroke:#2a2a2a;stroke-width:0.18px;" >14</text>
<text transform="translate(585.58,540.94) scale(1.261,1)" style="font-size:6.40px;fill:#2a2a2a;stroke:#2a2a2a;stroke-width:0.18px;" >15</text>
<text transform="translate(600.89,539.38) scale(1.261,1)" style="font-size:6.40px;fill:#2a2a2a;stroke:#2a2a2a;stroke-width:0.18px;" >17</text>
<text transform="translate(616.11,540.94) scale(1.261,1)" style="font-size:6.40px;fill:#2a2a2a;stroke:#2a2a2a;stroke-width:0.18px;" >15</text>
<rect x="421.5" y="414.9" width="217.10000000000002" height="146.10000000000002" fill="none" stroke="#8a8a8a" stroke-width="1"/>
<line x1="418.70" x2="421.5" y1="554.36" y2="554.36" stroke="#8a8a8a" stroke-width="1"/>
<text transform="translate(412.11,556.86) scale(1.220,1)" style="font-size:6.60px;fill:#606060;stroke:#606060;stroke-width:0.08px;" >0</text>
<line x1="418.70" x2="421.5" y1="530.92" y2="530.92" stroke="#8a8a8a" stroke-width="1"/>
<text transform="translate(407.60,533.42) scale(1.220,1)" style="font-size:6.60px;fill:#606060;stroke:#606060;stroke-width:0.08px;" >30</text>
<line x1="418.70" x2="421.5" y1="507.48" y2="507.48" stroke="#8a8a8a" stroke-width="1"/>
<text transform="translate(407.60,509.98) scale(1.220,1)" style="font-size:6.60px;fill:#606060;stroke:#606060;stroke-width:0.08px;" >60</text>
<line x1="418.70" x2="421.5" y1="484.04" y2="484.04" stroke="#8a8a8a" stroke-width="1"/>
<text transform="translate(407.60,486.54) scale(1.220,1)" style="font-size:6.60px;fill:#606060;stroke:#606060;stroke-width:0.08px;" >90</text>
<line x1="418.70" x2="421.5" y1="460.61" y2="460.61" stroke="#8a8a8a" stroke-width="1"/>
<text transform="translate(403.18,463.11) scale(1.220,1)" style="font-size:6.60px;fill:#606060;stroke:#606060;stroke-width:0.08px;" >120</text>
<line x1="418.70" x2="421.5" y1="437.17" y2="437.17" stroke="#8a8a8a" stroke-width="1"/>
<text transform="translate(403.18,439.67) scale(1.220,1)" style="font-size:6.60px;fill:#606060;stroke:#606060;stroke-width:0.08px;" >150</text>
<line x1="462.21" x2="462.21" y1="561.0" y2="563.50" stroke="#8a8a8a" stroke-width="1.2"/>
<text transform="translate(456.42,570.00) scale(1.300,1)" style="font-size:6.40px;fill:#666;stroke:#666;stroke-width:0.05px;" >0.5</text>
<line x1="530.05" x2="530.05" y1="561.0" y2="563.50" stroke="#8a8a8a" stroke-width="1.2"/>
<text transform="translate(524.10,570.00) scale(1.300,1)" style="font-size:6.40px;fill:#666;stroke:#666;stroke-width:0.05px;" >1.5</text>
<line x1="597.89" x2="597.89" y1="561.0" y2="563.50" stroke="#8a8a8a" stroke-width="1.2"/>
<text transform="translate(595.56,570.00) scale(1.300,1)" style="font-size:6.40px;fill:#666;stroke:#666;stroke-width:0.05px;" >2</text>
<text transform="translate(499.91,579.30) scale(1.253,1)" style="font-size:8.35px;fill:#222;stroke:#222;stroke-width:0.18px;" >Fold Change</text>
<text transform="translate(395.70,487.95) scale(1.32,1) rotate(-90)" text-anchor="middle" style="font-size:7.8px;fill:#222;stroke:#222;stroke-width:0.2px">Sample size ( <tspan style="font-style:italic">n</tspan> )</text>
<text transform="translate(389.83,407.20) scale(1.416,1)" style="font-size:9.50px;font-weight:bold;fill:#111;" >(h)</text>
<text transform="translate(430.90,406.30) scale(1.270,1)" style="font-size:9.8px;fill:#111;stroke:#111;stroke-width:0.22px"><tspan>ϕ = 0.2, μ</tspan><tspan style="font-size:6.86px" dy="2.35">0</tspan><tspan dy="-2.35"> = 5</tspan></text>
<rect x="683.8" y="414.9" width="217.30000000000007" height="146.10000000000002" fill="#fff"/>
<line x1="683.8" x2="901.1" y1="542.64" y2="542.64" stroke="#f4f4f4" stroke-width="1.1"/>
<line x1="683.8" x2="901.1" y1="519.20" y2="519.20" stroke="#f4f4f4" stroke-width="1.1"/>
<line x1="683.8" x2="901.1" y1="495.76" y2="495.76" stroke="#f4f4f4" stroke-width="1.1"/>
<line x1="683.8" x2="901.1" y1="472.32" y2="472.32" stroke="#f4f4f4" stroke-width="1.1"/>
<line x1="683.8" x2="901.1" y1="448.89" y2="448.89" stroke="#f4f4f4" stroke-width="1.1"/>
<line x1="683.8" x2="901.1" y1="425.45" y2="425.45" stroke="#f4f4f4" stroke-width="1.1"/>
<line x1="683.8" x2="901.1" y1="554.36" y2="554.36" stroke="#eeeeee" stroke-width="1.2"/>
<line x1="683.8" x2="901.1" y1="530.92" y2="530.92" stroke="#eeeeee" stroke-width="1.2"/>
<line x1="683.8" x2="901.1" y1="507.48" y2="507.48" stroke="#eeeeee" stroke-width="1.2"/>
<line x1="683.8" x2="901.1" y1="484.04" y2="484.04" stroke="#eeeeee" stroke-width="1.2"/>
<line x1="683.8" x2="901.1" y1="460.61" y2="460.61" stroke="#eeeeee" stroke-width="1.2"/>
<line x1="683.8" x2="901.1" y1="437.17" y2="437.17" stroke="#eeeeee" stroke-width="1.2"/>
<line x1="724.54" x2="724.54" y1="414.9" y2="561.0" stroke="#efefef" stroke-width="1.4"/>
<line x1="792.45" x2="792.45" y1="414.9" y2="561.0" stroke="#efefef" stroke-width="1.4"/>
<line x1="860.36" x2="860.36" y1="414.9" y2="561.0" stroke="#efefef" stroke-width="1.4"/>
<rect x="693.99" y="530.14" width="15.28" height="24.22" fill="#F8766D"/>
<rect x="709.26" y="529.36" width="15.28" height="25.00" fill="#7CAE00"/>
<rect x="724.54" y="524.67" width="15.28" height="29.69" fill="#00BFC4"/>
<rect x="739.82" y="528.58" width="15.28" height="25.78" fill="#C77CFF"/>
<rect x="761.89" y="492.64" width="15.28" height="61.72" fill="#F8766D"/>
<rect x="777.17" y="490.29" width="15.28" height="64.07" fill="#7CAE00"/>
<rect x="792.45" y="481.70" width="15.28" height="72.66" fill="#00BFC4"/>
<rect x="807.73" y="489.51" width="15.28" height="64.85" fill="#C77CFF"/>
<rect x="829.80" y="533.26" width="15.28" height="21.09" fill="#F8766D"/>
<rect x="845.08" y="532.48" width="15.28" height="21.88" fill="#7CAE00"/>
<rect x="860.36" y="529.36" width="15.28" height="25.00" fill="#00BFC4"/>
<rect x="875.64" y="533.26" width="15.28" height="21.09" fill="#C77CFF"/>
<text transform="translate(697.15,528.44) scale(1.261,1)" style="font-size:6.40px;fill:#2a2a2a;stroke:#2a2a2a;stroke-width:0.18px;" >31</text>
<text transform="translate(712.43,527.66) scale(1.261,1)" style="font-size:6.40px;fill:#2a2a2a;stroke:#2a2a2a;stroke-width:0.18px;" >32</text>
<text transform="translate(727.70,522.97) scale(1.261,1)" style="font-size:6.40px;fill:#2a2a2a;stroke:#2a2a2a;stroke-width:0.18px;" >38</text>
<text transform="translate(742.98,526.88) scale(1.261,1)" style="font-size:6.40px;fill:#2a2a2a;stroke:#2a2a2a;stroke-width:0.18px;" >33</text>
<text transform="translate(765.01,490.94) scale(1.261,1)" style="font-size:6.40px;fill:#2a2a2a;stroke:#2a2a2a;stroke-width:0.18px;" >79</text>
<text transform="translate(780.33,488.59) scale(1.261,1)" style="font-size:6.40px;fill:#2a2a2a;stroke:#2a2a2a;stroke-width:0.18px;" >82</text>
<text transform="translate(795.57,480.00) scale(1.261,1)" style="font-size:6.40px;fill:#2a2a2a;stroke:#2a2a2a;stroke-width:0.18px;" >93</text>
<text transform="translate(810.89,487.81) scale(1.261,1)" style="font-size:6.40px;fill:#2a2a2a;stroke:#2a2a2a;stroke-width:0.18px;" >83</text>
<text transform="translate(832.92,531.56) scale(1.261,1)" style="font-size:6.40px;fill:#2a2a2a;stroke:#2a2a2a;stroke-width:0.18px;" >27</text>
<text transform="translate(848.20,530.78) scale(1.261,1)" style="font-size:6.40px;fill:#2a2a2a;stroke:#2a2a2a;stroke-width:0.18px;" >28</text>
<text transform="translate(863.52,527.66) scale(1.261,1)" style="font-size:6.40px;fill:#2a2a2a;stroke:#2a2a2a;stroke-width:0.18px;" >32</text>
<text transform="translate(878.76,531.56) scale(1.261,1)" style="font-size:6.40px;fill:#2a2a2a;stroke:#2a2a2a;stroke-width:0.18px;" >27</text>
<rect x="683.8" y="414.9" width="217.30000000000007" height="146.10000000000002" fill="none" stroke="#8a8a8a" stroke-width="1"/>
<line x1="681.00" x2="683.8" y1="554.36" y2="554.36" stroke="#8a8a8a" stroke-width="1"/>
<text transform="translate(674.41,556.86) scale(1.220,1)" style="font-size:6.60px;fill:#606060;stroke:#606060;stroke-width:0.08px;" >0</text>
<line x1="681.00" x2="683.8" y1="530.92" y2="530.92" stroke="#8a8a8a" stroke-width="1"/>
<text transform="translate(669.90,533.42) scale(1.220,1)" style="font-size:6.60px;fill:#606060;stroke:#606060;stroke-width:0.08px;" >30</text>
<line x1="681.00" x2="683.8" y1="507.48" y2="507.48" stroke="#8a8a8a" stroke-width="1"/>
<text transform="translate(669.90,509.98) scale(1.220,1)" style="font-size:6.60px;fill:#606060;stroke:#606060;stroke-width:0.08px;" >60</text>
<line x1="681.00" x2="683.8" y1="484.04" y2="484.04" stroke="#8a8a8a" stroke-width="1"/>
<text transform="translate(669.90,486.54) scale(1.220,1)" style="font-size:6.60px;fill:#606060;stroke:#606060;stroke-width:0.08px;" >90</text>
<line x1="681.00" x2="683.8" y1="460.61" y2="460.61" stroke="#8a8a8a" stroke-width="1"/>
<text transform="translate(665.48,463.11) scale(1.220,1)" style="font-size:6.60px;fill:#606060;stroke:#606060;stroke-width:0.08px;" >120</text>
<line x1="681.00" x2="683.8" y1="437.17" y2="437.17" stroke="#8a8a8a" stroke-width="1"/>
<text transform="translate(665.48,439.67) scale(1.220,1)" style="font-size:6.60px;fill:#606060;stroke:#606060;stroke-width:0.08px;" >150</text>
<line x1="724.54" x2="724.54" y1="561.0" y2="563.50" stroke="#8a8a8a" stroke-width="1.2"/>
<text transform="translate(718.76,570.00) scale(1.300,1)" style="font-size:6.40px;fill:#666;stroke:#666;stroke-width:0.05px;" >0.5</text>
<line x1="792.45" x2="792.45" y1="561.0" y2="563.50" stroke="#8a8a8a" stroke-width="1.2"/>
<text transform="translate(786.50,570.00) scale(1.300,1)" style="font-size:6.40px;fill:#666;stroke:#666;stroke-width:0.05px;" >1.5</text>
<line x1="860.36" x2="860.36" y1="561.0" y2="563.50" stroke="#8a8a8a" stroke-width="1.2"/>
<text transform="translate(858.03,570.00) scale(1.300,1)" style="font-size:6.40px;fill:#666;stroke:#666;stroke-width:0.05px;" >2</text>
<text transform="translate(762.31,579.30) scale(1.253,1)" style="font-size:8.35px;fill:#222;stroke:#222;stroke-width:0.18px;" >Fold Change</text>
<text transform="translate(658.00,487.95) scale(1.32,1) rotate(-90)" text-anchor="middle" style="font-size:7.8px;fill:#222;stroke:#222;stroke-width:0.2px">Sample size ( <tspan style="font-style:italic">n</tspan> )</text>
<text transform="translate(650.33,407.20) scale(1.416,1)" style="font-size:9.50px;font-weight:bold;fill:#111;" >(i)</text>
<text transform="translate(693.20,406.30) scale(1.270,1)" style="font-size:9.8px;fill:#111;stroke:#111;stroke-width:0.22px"><tspan>ϕ = 0.5, μ</tspan><tspan style="font-size:6.86px" dy="2.35">0</tspan><tspan dy="-2.35"> = 5</tspan></text>
<rect x="158.5" y="603.3" width="217.60000000000002" height="146.0" fill="#fff"/>
<line x1="158.5" x2="376.1" y1="730.95" y2="730.95" stroke="#f4f4f4" stroke-width="1.1"/>
<line x1="158.5" x2="376.1" y1="707.53" y2="707.53" stroke="#f4f4f4" stroke-width="1.1"/>
<line x1="158.5" x2="376.1" y1="684.11" y2="684.11" stroke="#f4f4f4" stroke-width="1.1"/>
<line x1="158.5" x2="376.1" y1="660.69" y2="660.69" stroke="#f4f4f4" stroke-width="1.1"/>
<line x1="158.5" x2="376.1" y1="637.26" y2="637.26" stroke="#f4f4f4" stroke-width="1.1"/>
<line x1="158.5" x2="376.1" y1="613.84" y2="613.84" stroke="#f4f4f4" stroke-width="1.1"/>
<line x1="158.5" x2="376.1" y1="742.66" y2="742.66" stroke="#eeeeee" stroke-width="1.2"/>
<line x1="158.5" x2="376.1" y1="719.24" y2="719.24" stroke="#eeeeee" stroke-width="1.2"/>
<line x1="158.5" x2="376.1" y1="695.82" y2="695.82" stroke="#eeeeee" stroke-width="1.2"/>
<line x1="158.5" x2="376.1" y1="672.40" y2="672.40" stroke="#eeeeee" stroke-width="1.2"/>
<line x1="158.5" x2="376.1" y1="648.97" y2="648.97" stroke="#eeeeee" stroke-width="1.2"/>
<line x1="158.5" x2="376.1" y1="625.55" y2="625.55" stroke="#eeeeee" stroke-width="1.2"/>
<line x1="199.30" x2="199.30" y1="603.3" y2="749.3" stroke="#efefef" stroke-width="1.4"/>
<line x1="267.30" x2="267.30" y1="603.3" y2="749.3" stroke="#efefef" stroke-width="1.4"/>
<line x1="335.30" x2="335.30" y1="603.3" y2="749.3" stroke="#efefef" stroke-width="1.4"/>
<rect x="168.70" y="734.86" width="15.30" height="7.81" fill="#F8766D"/>
<rect x="184.00" y="734.08" width="15.30" height="8.59" fill="#7CAE00"/>
<rect x="199.30" y="732.51" width="15.30" height="10.15" fill="#00BFC4"/>
<rect x="214.60" y="734.86" width="15.30" height="7.81" fill="#C77CFF"/>
<rect x="236.70" y="726.27" width="15.30" height="16.40" fill="#F8766D"/>
<rect x="252.00" y="722.36" width="15.30" height="20.30" fill="#7CAE00"/>
<rect x="267.30" y="718.46" width="15.30" height="24.20" fill="#00BFC4"/>
<rect x="282.60" y="721.58" width="15.30" height="21.08" fill="#C77CFF"/>
<rect x="304.70" y="737.20" width="15.30" height="5.47" fill="#F8766D"/>
<rect x="320.00" y="736.42" width="15.30" height="6.25" fill="#7CAE00"/>
<rect x="335.30" y="735.64" width="15.30" height="7.03" fill="#00BFC4"/>
<rect x="350.60" y="736.42" width="15.30" height="6.25" fill="#C77CFF"/>
<text transform="translate(171.67,733.16) scale(1.261,1)" style="font-size:6.40px;fill:#2a2a2a;stroke:#2a2a2a;stroke-width:0.18px;" >10</text>
<text transform="translate(187.33,732.38) scale(1.261,1)" style="font-size:6.40px;fill:#2a2a2a;stroke:#2a2a2a;stroke-width:0.18px;" >11</text>
<text transform="translate(202.31,730.81) scale(1.261,1)" style="font-size:6.40px;fill:#2a2a2a;stroke:#2a2a2a;stroke-width:0.18px;" >13</text>
<text transform="translate(217.57,733.16) scale(1.261,1)" style="font-size:6.40px;fill:#2a2a2a;stroke:#2a2a2a;stroke-width:0.18px;" >10</text>
<text transform="translate(239.83,724.57) scale(1.261,1)" style="font-size:6.40px;fill:#2a2a2a;stroke:#2a2a2a;stroke-width:0.18px;" >21</text>
<text transform="translate(255.13,720.66) scale(1.261,1)" style="font-size:6.40px;fill:#2a2a2a;stroke:#2a2a2a;stroke-width:0.18px;" >26</text>
<text transform="translate(270.47,716.76) scale(1.261,1)" style="font-size:6.40px;fill:#2a2a2a;stroke:#2a2a2a;stroke-width:0.18px;" >31</text>
<text transform="translate(285.73,719.88) scale(1.261,1)" style="font-size:6.40px;fill:#2a2a2a;stroke:#2a2a2a;stroke-width:0.18px;" >27</text>
<text transform="translate(310.09,735.50) scale(1.261,1)" style="font-size:6.40px;fill:#2a2a2a;stroke:#2a2a2a;stroke-width:0.18px;" >7</text>
<text transform="translate(325.43,734.72) scale(1.261,1)" style="font-size:6.40px;fill:#2a2a2a;stroke:#2a2a2a;stroke-width:0.18px;" >8</text>
<text transform="translate(340.69,733.94) scale(1.261,1)" style="font-size:6.40px;fill:#2a2a2a;stroke:#2a2a2a;stroke-width:0.18px;" >9</text>
<text transform="translate(356.03,734.72) scale(1.261,1)" style="font-size:6.40px;fill:#2a2a2a;stroke:#2a2a2a;stroke-width:0.18px;" >8</text>
<rect x="158.5" y="603.3" width="217.60000000000002" height="146.0" fill="none" stroke="#8a8a8a" stroke-width="1"/>
<line x1="155.70" x2="158.5" y1="742.66" y2="742.66" stroke="#8a8a8a" stroke-width="1"/>
<text transform="translate(149.11,745.16) scale(1.220,1)" style="font-size:6.60px;fill:#606060;stroke:#606060;stroke-width:0.08px;" >0</text>
<line x1="155.70" x2="158.5" y1="719.24" y2="719.24" stroke="#8a8a8a" stroke-width="1"/>
<text transform="translate(144.60,721.74) scale(1.220,1)" style="font-size:6.60px;fill:#606060;stroke:#606060;stroke-width:0.08px;" >30</text>
<line x1="155.70" x2="158.5" y1="695.82" y2="695.82" stroke="#8a8a8a" stroke-width="1"/>
<text transform="translate(144.60,698.32) scale(1.220,1)" style="font-size:6.60px;fill:#606060;stroke:#606060;stroke-width:0.08px;" >60</text>
<line x1="155.70" x2="158.5" y1="672.40" y2="672.40" stroke="#8a8a8a" stroke-width="1"/>
<text transform="translate(144.60,674.90) scale(1.220,1)" style="font-size:6.60px;fill:#606060;stroke:#606060;stroke-width:0.08px;" >90</text>
<line x1="155.70" x2="158.5" y1="648.97" y2="648.97" stroke="#8a8a8a" stroke-width="1"/>
<text transform="translate(140.18,651.47) scale(1.220,1)" style="font-size:6.60px;fill:#606060;stroke:#606060;stroke-width:0.08px;" >120</text>
<line x1="155.70" x2="158.5" y1="625.55" y2="625.55" stroke="#8a8a8a" stroke-width="1"/>
<text transform="translate(140.18,628.05) scale(1.220,1)" style="font-size:6.60px;fill:#606060;stroke:#606060;stroke-width:0.08px;" >150</text>
<line x1="199.30" x2="199.30" y1="749.3" y2="751.80" stroke="#8a8a8a" stroke-width="1.2"/>
<text transform="translate(193.52,758.30) scale(1.300,1)" style="font-size:6.40px;fill:#666;stroke:#666;stroke-width:0.05px;" >0.5</text>
<line x1="267.30" x2="267.30" y1="749.3" y2="751.80" stroke="#8a8a8a" stroke-width="1.2"/>
<text transform="translate(261.35,758.30) scale(1.300,1)" style="font-size:6.40px;fill:#666;stroke:#666;stroke-width:0.05px;" >1.5</text>
<line x1="335.30" x2="335.30" y1="749.3" y2="751.80" stroke="#8a8a8a" stroke-width="1.2"/>
<text transform="translate(332.97,758.30) scale(1.300,1)" style="font-size:6.40px;fill:#666;stroke:#666;stroke-width:0.05px;" >2</text>
<text transform="translate(237.16,767.60) scale(1.253,1)" style="font-size:8.35px;fill:#222;stroke:#222;stroke-width:0.18px;" >Fold Change</text>
<text transform="translate(132.70,676.30) scale(1.32,1) rotate(-90)" text-anchor="middle" style="font-size:7.8px;fill:#222;stroke:#222;stroke-width:0.2px">Sample size ( <tspan style="font-style:italic">n</tspan> )</text>
<text transform="translate(125.33,595.60) scale(1.416,1)" style="font-size:9.50px;font-weight:bold;fill:#111;" >(j)</text>
<text transform="translate(167.90,594.70) scale(1.270,1)" style="font-size:9.8px;fill:#111;stroke:#111;stroke-width:0.22px"><tspan>ϕ = 0.1, μ</tspan><tspan style="font-size:6.86px" dy="2.35">0</tspan><tspan dy="-2.35"> = 10</tspan></text>
<rect x="421.5" y="603.3" width="217.10000000000002" height="146.0" fill="#fff"/>
<line x1="421.5" x2="638.6" y1="730.95" y2="730.95" stroke="#f4f4f4" stroke-width="1.1"/>
<line x1="421.5" x2="638.6" y1="707.53" y2="707.53" stroke="#f4f4f4" stroke-width="1.1"/>
<line x1="421.5" x2="638.6" y1="684.11" y2="684.11" stroke="#f4f4f4" stroke-width="1.1"/>
<line x1="421.5" x2="638.6" y1="660.69" y2="660.69" stroke="#f4f4f4" stroke-width="1.1"/>
<line x1="421.5" x2="638.6" y1="637.26" y2="637.26" stroke="#f4f4f4" stroke-width="1.1"/>
<line x1="421.5" x2="638.6" y1="613.84" y2="613.84" stroke="#f4f4f4" stroke-width="1.1"/>
<line x1="421.5" x2="638.6" y1="742.66" y2="742.66" stroke="#eeeeee" stroke-width="1.2"/>
<line x1="421.5" x2="638.6" y1="719.24" y2="719.24" stroke="#eeeeee" stroke-width="1.2"/>
<line x1="421.5" x2="638.6" y1="695.82" y2="695.82" stroke="#eeeeee" stroke-width="1.2"/>
<line x1="421.5" x2="638.6" y1="672.40" y2="672.40" stroke="#eeeeee" stroke-width="1.2"/>
<line x1="421.5" x2="638.6" y1="648.97" y2="648.97" stroke="#eeeeee" stroke-width="1.2"/>
<line x1="421.5" x2="638.6" y1="625.55" y2="625.55" stroke="#eeeeee" stroke-width="1.2"/>
<line x1="462.21" x2="462.21" y1="603.3" y2="749.3" stroke="#efefef" stroke-width="1.4"/>
<line x1="530.05" x2="530.05" y1="603.3" y2="749.3" stroke="#efefef" stroke-width="1.4"/>
<line x1="597.89" x2="597.89" y1="603.3" y2="749.3" stroke="#efefef" stroke-width="1.4"/>
<rect x="431.68" y="732.51" width="15.26" height="10.15" fill="#F8766D"/>
<rect x="446.94" y="730.95" width="15.26" height="11.71" fill="#7CAE00"/>
<rect x="462.21" y="729.39" width="15.26" height="13.27" fill="#00BFC4"/>
<rect x="477.47" y="731.73" width="15.26" height="10.93" fill="#C77CFF"/>
<rect x="499.52" y="716.12" width="15.26" height="26.55" fill="#F8766D"/>
<rect x="514.79" y="715.34" width="15.26" height="27.33" fill="#7CAE00"/>
<rect x="530.05" y="711.43" width="15.26" height="31.23" fill="#00BFC4"/>
<rect x="545.31" y="715.34" width="15.26" height="27.33" fill="#C77CFF"/>
<rect x="567.36" y="734.08" width="15.26" height="8.59" fill="#F8766D"/>
<rect x="582.63" y="733.29" width="15.26" height="9.37" fill="#7CAE00"/>
<rect x="597.89" y="731.73" width="15.26" height="10.93" fill="#00BFC4"/>
<rect x="613.16" y="734.08" width="15.26" height="8.59" fill="#C77CFF"/>
<text transform="translate(434.67,730.81) scale(1.261,1)" style="font-size:6.40px;fill:#2a2a2a;stroke:#2a2a2a;stroke-width:0.18px;" >13</text>
<text transform="translate(449.89,729.25) scale(1.261,1)" style="font-size:6.40px;fill:#2a2a2a;stroke:#2a2a2a;stroke-width:0.18px;" >15</text>
<text transform="translate(465.20,727.69) scale(1.261,1)" style="font-size:6.40px;fill:#2a2a2a;stroke:#2a2a2a;stroke-width:0.18px;" >17</text>
<text transform="translate(480.38,730.03) scale(1.261,1)" style="font-size:6.40px;fill:#2a2a2a;stroke:#2a2a2a;stroke-width:0.18px;" >14</text>
<text transform="translate(502.59,714.42) scale(1.261,1)" style="font-size:6.40px;fill:#2a2a2a;stroke:#2a2a2a;stroke-width:0.18px;" >34</text>
<text transform="translate(517.90,713.64) scale(1.261,1)" style="font-size:6.40px;fill:#2a2a2a;stroke:#2a2a2a;stroke-width:0.18px;" >35</text>
<text transform="translate(533.24,709.73) scale(1.261,1)" style="font-size:6.40px;fill:#2a2a2a;stroke:#2a2a2a;stroke-width:0.18px;" >40</text>
<text transform="translate(548.43,713.64) scale(1.261,1)" style="font-size:6.40px;fill:#2a2a2a;stroke:#2a2a2a;stroke-width:0.18px;" >35</text>
<text transform="translate(570.68,732.38) scale(1.261,1)" style="font-size:6.40px;fill:#2a2a2a;stroke:#2a2a2a;stroke-width:0.18px;" >11</text>
<text transform="translate(585.62,731.59) scale(1.261,1)" style="font-size:6.40px;fill:#2a2a2a;stroke:#2a2a2a;stroke-width:0.18px;" >12</text>
<text transform="translate(600.80,730.03) scale(1.261,1)" style="font-size:6.40px;fill:#2a2a2a;stroke:#2a2a2a;stroke-width:0.18px;" >14</text>
<text transform="translate(616.47,732.38) scale(1.261,1)" style="font-size:6.40px;fill:#2a2a2a;stroke:#2a2a2a;stroke-width:0.18px;" >11</text>
<rect x="421.5" y="603.3" width="217.10000000000002" height="146.0" fill="none" stroke="#8a8a8a" stroke-width="1"/>
<line x1="418.70" x2="421.5" y1="742.66" y2="742.66" stroke="#8a8a8a" stroke-width="1"/>
<text transform="translate(412.11,745.16) scale(1.220,1)" style="font-size:6.60px;fill:#606060;stroke:#606060;stroke-width:0.08px;" >0</text>
<line x1="418.70" x2="421.5" y1="719.24" y2="719.24" stroke="#8a8a8a" stroke-width="1"/>
<text transform="translate(407.60,721.74) scale(1.220,1)" style="font-size:6.60px;fill:#606060;stroke:#606060;stroke-width:0.08px;" >30</text>
<line x1="418.70" x2="421.5" y1="695.82" y2="695.82" stroke="#8a8a8a" stroke-width="1"/>
<text transform="translate(407.60,698.32) scale(1.220,1)" style="font-size:6.60px;fill:#606060;stroke:#606060;stroke-width:0.08px;" >60</text>
<line x1="418.70" x2="421.5" y1="672.40" y2="672.40" stroke="#8a8a8a" stroke-width="1"/>
<text transform="translate(407.60,674.90) scale(1.220,1)" style="font-size:6.60px;fill:#606060;stroke:#606060;stroke-width:0.08px;" >90</text>
<line x1="418.70" x2="421.5" y1="648.97" y2="648.97" stroke="#8a8a8a" stroke-width="1"/>
<text transform="translate(403.18,651.47) scale(1.220,1)" style="font-size:6.60px;fill:#606060;stroke:#606060;stroke-width:0.08px;" >120</text>
<line x1="418.70" x2="421.5" y1="625.55" y2="625.55" stroke="#8a8a8a" stroke-width="1"/>
<text transform="translate(403.18,628.05) scale(1.220,1)" style="font-size:6.60px;fill:#606060;stroke:#606060;stroke-width:0.08px;" >150</text>
<line x1="462.21" x2="462.21" y1="749.3" y2="751.80" stroke="#8a8a8a" stroke-width="1.2"/>
<text transform="translate(456.42,758.30) scale(1.300,1)" style="font-size:6.40px;fill:#666;stroke:#666;stroke-width:0.05px;" >0.5</text>
<line x1="530.05" x2="530.05" y1="749.3" y2="751.80" stroke="#8a8a8a" stroke-width="1.2"/>
<text transform="translate(524.10,758.30) scale(1.300,1)" style="font-size:6.40px;fill:#666;stroke:#666;stroke-width:0.05px;" >1.5</text>
<line x1="597.89" x2="597.89" y1="749.3" y2="751.80" stroke="#8a8a8a" stroke-width="1.2"/>
<text transform="translate(595.56,758.30) scale(1.300,1)" style="font-size:6.40px;fill:#666;stroke:#666;stroke-width:0.05px;" >2</text>
<text transform="translate(499.91,767.60) scale(1.253,1)" style="font-size:8.35px;fill:#222;stroke:#222;stroke-width:0.18px;" >Fold Change</text>
<text transform="translate(395.70,676.30) scale(1.32,1) rotate(-90)" text-anchor="middle" style="font-size:7.8px;fill:#222;stroke:#222;stroke-width:0.2px">Sample size ( <tspan style="font-style:italic">n</tspan> )</text>
<text transform="translate(389.63,595.60) scale(1.416,1)" style="font-size:9.50px;font-weight:bold;fill:#111;" >(k)</text>
<text transform="translate(430.90,594.70) scale(1.270,1)" style="font-size:9.8px;fill:#111;stroke:#111;stroke-width:0.22px"><tspan>ϕ = 0.2, μ</tspan><tspan style="font-size:6.86px" dy="2.35">0</tspan><tspan dy="-2.35"> = 10</tspan></text>
<rect x="683.8" y="603.3" width="217.30000000000007" height="146.0" fill="#fff"/>
<line x1="683.8" x2="901.1" y1="730.95" y2="730.95" stroke="#f4f4f4" stroke-width="1.1"/>
<line x1="683.8" x2="901.1" y1="707.53" y2="707.53" stroke="#f4f4f4" stroke-width="1.1"/>
<line x1="683.8" x2="901.1" y1="684.11" y2="684.11" stroke="#f4f4f4" stroke-width="1.1"/>
<line x1="683.8" x2="901.1" y1="660.69" y2="660.69" stroke="#f4f4f4" stroke-width="1.1"/>
<line x1="683.8" x2="901.1" y1="637.26" y2="637.26" stroke="#f4f4f4" stroke-width="1.1"/>
<line x1="683.8" x2="901.1" y1="613.84" y2="613.84" stroke="#f4f4f4" stroke-width="1.1"/>
<line x1="683.8" x2="901.1" y1="742.66" y2="742.66" stroke="#eeeeee" stroke-width="1.2"/>
<line x1="683.8" x2="901.1" y1="719.24" y2="719.24" stroke="#eeeeee" stroke-width="1.2"/>
<line x1="683.8" x2="901.1" y1="695.82" y2="695.82" stroke="#eeeeee" stroke-width="1.2"/>
<line x1="683.8" x2="901.1" y1="672.40" y2="672.40" stroke="#eeeeee" stroke-width="1.2"/>
<line x1="683.8" x2="901.1" y1="648.97" y2="648.97" stroke="#eeeeee" stroke-width="1.2"/>
<line x1="683.8" x2="901.1" y1="625.55" y2="625.55" stroke="#eeeeee" stroke-width="1.2"/>
<line x1="724.54" x2="724.54" y1="603.3" y2="749.3" stroke="#efefef" stroke-width="1.4"/>
<line x1="792.45" x2="792.45" y1="603.3" y2="749.3" stroke="#efefef" stroke-width="1.4"/>
<line x1="860.36" x2="860.36" y1="603.3" y2="749.3" stroke="#efefef" stroke-width="1.4"/>
<rect x="693.99" y="722.36" width="15.28" height="20.30" fill="#F8766D"/>
<rect x="709.26" y="722.36" width="15.28" height="20.30" fill="#7CAE00"/>
<rect x="724.54" y="718.46" width="15.28" height="24.20" fill="#00BFC4"/>
<rect x="739.82" y="721.58" width="15.28" height="21.08" fill="#C77CFF"/>
<rect x="761.89" y="688.79" width="15.28" height="53.87" fill="#F8766D"/>
<rect x="777.17" y="687.23" width="15.28" height="55.43" fill="#7CAE00"/>
<rect x="792.45" y="678.64" width="15.28" height="64.02" fill="#00BFC4"/>
<rect x="807.73" y="687.23" width="15.28" height="55.43" fill="#C77CFF"/>
<rect x="829.80" y="723.93" width="15.28" height="18.74" fill="#F8766D"/>
<rect x="845.08" y="723.14" width="15.28" height="19.52" fill="#7CAE00"/>
<rect x="860.36" y="720.02" width="15.28" height="22.64" fill="#00BFC4"/>
<rect x="875.64" y="723.14" width="15.28" height="19.52" fill="#C77CFF"/>
<text transform="translate(697.11,720.66) scale(1.261,1)" style="font-size:6.40px;fill:#2a2a2a;stroke:#2a2a2a;stroke-width:0.18px;" >26</text>
<text transform="translate(712.38,720.66) scale(1.261,1)" style="font-size:6.40px;fill:#2a2a2a;stroke:#2a2a2a;stroke-width:0.18px;" >26</text>
<text transform="translate(727.70,716.76) scale(1.261,1)" style="font-size:6.40px;fill:#2a2a2a;stroke:#2a2a2a;stroke-width:0.18px;" >31</text>
<text transform="translate(742.94,719.88) scale(1.261,1)" style="font-size:6.40px;fill:#2a2a2a;stroke:#2a2a2a;stroke-width:0.18px;" >27</text>
<text transform="translate(765.01,687.09) scale(1.261,1)" style="font-size:6.40px;fill:#2a2a2a;stroke:#2a2a2a;stroke-width:0.18px;" >69</text>
<text transform="translate(780.29,685.53) scale(1.261,1)" style="font-size:6.40px;fill:#2a2a2a;stroke:#2a2a2a;stroke-width:0.18px;" >71</text>
<text transform="translate(795.61,676.94) scale(1.261,1)" style="font-size:6.40px;fill:#2a2a2a;stroke:#2a2a2a;stroke-width:0.18px;" >82</text>
<text transform="translate(810.85,685.53) scale(1.261,1)" style="font-size:6.40px;fill:#2a2a2a;stroke:#2a2a2a;stroke-width:0.18px;" >71</text>
<text transform="translate(832.84,722.23) scale(1.261,1)" style="font-size:6.40px;fill:#2a2a2a;stroke:#2a2a2a;stroke-width:0.18px;" >24</text>
<text transform="translate(848.16,721.44) scale(1.261,1)" style="font-size:6.40px;fill:#2a2a2a;stroke:#2a2a2a;stroke-width:0.18px;" >25</text>
<text transform="translate(863.48,718.32) scale(1.261,1)" style="font-size:6.40px;fill:#2a2a2a;stroke:#2a2a2a;stroke-width:0.18px;" >29</text>
<text transform="translate(878.71,721.44) scale(1.261,1)" style="font-size:6.40px;fill:#2a2a2a;stroke:#2a2a2a;stroke-width:0.18px;" >25</text>
<rect x="683.8" y="603.3" width="217.30000000000007" height="146.0" fill="none" stroke="#8a8a8a" stroke-width="1"/>
<line x1="681.00" x2="683.8" y1="742.66" y2="742.66" stroke="#8a8a8a" stroke-width="1"/>
<text transform="translate(674.41,745.16) scale(1.220,1)" style="font-size:6.60px;fill:#606060;stroke:#606060;stroke-width:0.08px;" >0</text>
<line x1="681.00" x2="683.8" y1="719.24" y2="719.24" stroke="#8a8a8a" stroke-width="1"/>
<text transform="translate(669.90,721.74) scale(1.220,1)" style="font-size:6.60px;fill:#606060;stroke:#606060;stroke-width:0.08px;" >30</text>
<line x1="681.00" x2="683.8" y1="695.82" y2="695.82" stroke="#8a8a8a" stroke-width="1"/>
<text transform="translate(669.90,698.32) scale(1.220,1)" style="font-size:6.60px;fill:#606060;stroke:#606060;stroke-width:0.08px;" >60</text>
<line x1="681.00" x2="683.8" y1="672.40" y2="672.40" stroke="#8a8a8a" stroke-width="1"/>
<text transform="translate(669.90,674.90) scale(1.220,1)" style="font-size:6.60px;fill:#606060;stroke:#606060;stroke-width:0.08px;" >90</text>
<line x1="681.00" x2="683.8" y1="648.97" y2="648.97" stroke="#8a8a8a" stroke-width="1"/>
<text transform="translate(665.48,651.47) scale(1.220,1)" style="font-size:6.60px;fill:#606060;stroke:#606060;stroke-width:0.08px;" >120</text>
<line x1="681.00" x2="683.8" y1="625.55" y2="625.55" stroke="#8a8a8a" stroke-width="1"/>
<text transform="translate(665.48,628.05) scale(1.220,1)" style="font-size:6.60px;fill:#606060;stroke:#606060;stroke-width:0.08px;" >150</text>
<line x1="724.54" x2="724.54" y1="749.3" y2="751.80" stroke="#8a8a8a" stroke-width="1.2"/>
<text transform="translate(718.76,758.30) scale(1.300,1)" style="font-size:6.40px;fill:#666;stroke:#666;stroke-width:0.05px;" >0.5</text>
<line x1="792.45" x2="792.45" y1="749.3" y2="751.80" stroke="#8a8a8a" stroke-width="1.2"/>
<text transform="translate(786.50,758.30) scale(1.300,1)" style="font-size:6.40px;fill:#666;stroke:#666;stroke-width:0.05px;" >1.5</text>
<line x1="860.36" x2="860.36" y1="749.3" y2="751.80" stroke="#8a8a8a" stroke-width="1.2"/>
<text transform="translate(858.03,758.30) scale(1.300,1)" style="font-size:6.40px;fill:#666;stroke:#666;stroke-width:0.05px;" >2</text>
<text transform="translate(762.31,767.60) scale(1.253,1)" style="font-size:8.35px;fill:#222;stroke:#222;stroke-width:0.18px;" >Fold Change</text>
<text transform="translate(658.00,676.30) scale(1.32,1) rotate(-90)" text-anchor="middle" style="font-size:7.8px;fill:#222;stroke:#222;stroke-width:0.2px">Sample size ( <tspan style="font-style:italic">n</tspan> )</text>
<text transform="translate(650.33,595.60) scale(1.416,1)" style="font-size:9.50px;font-weight:bold;fill:#111;" >(l)</text>
<text transform="translate(693.20,594.70) scale(1.270,1)" style="font-size:9.8px;fill:#111;stroke:#111;stroke-width:0.22px"><tspan>ϕ = 0.5, μ</tspan><tspan style="font-size:6.86px" dy="2.35">0</tspan><tspan dy="-2.35"> = 10</tspan></text>
<text transform="translate(925.27,177.00) scale(1.143,1)" style="font-size:9.20px;fill:#222;stroke:#222;stroke-width:0.18px;" >Covariate 2</text>
<rect x="925.80" y="182.20" width="15" height="11.05" fill="#F8766D"/>
<text transform="translate(946.61,190.90) scale(1.280,1)" style="font-size:6.60px;fill:#333;stroke:#333;stroke-width:0.12px;" >none</text>
<rect x="925.80" y="194.55" width="15" height="11.05" fill="#7CAE00"/>
<text transform="translate(946.44,203.25) scale(1.280,1)" style="font-size:6.60px;fill:#333;stroke:#333;stroke-width:0.12px;" >I(0.2, 0.3, 0.3, 0.2)</text>
<rect x="925.80" y="206.90" width="15" height="11.05" fill="#00BFC4"/>
<text transform="translate(946.44,215.60) scale(1.280,1)" style="font-size:6.60px;fill:#333;stroke:#333;stroke-width:0.12px;" >II(0.1, 0.4, 0.4, 0.1)</text>
<rect x="925.80" y="219.25" width="15" height="11.05" fill="#C77CFF"/>
<text transform="translate(946.44,227.95) scale(1.280,1)" style="font-size:6.60px;fill:#333;stroke:#333;stroke-width:0.12px;" >III(0.1, 0.3, 0.4, 0.2)</text>
<text transform="translate(911.77,561.00) scale(1.143,1)" style="font-size:9.20px;fill:#222;stroke:#222;stroke-width:0.18px;" >Covariate 2</text>
<rect x="912.30" y="566.60" width="15" height="11.05" fill="#F8766D"/>
<text transform="translate(933.81,575.30) scale(1.280,1)" style="font-size:6.60px;fill:#333;stroke:#333;stroke-width:0.12px;" >none</text>
<rect x="912.30" y="578.95" width="15" height="11.05" fill="#7CAE00"/>
<text transform="translate(933.64,587.65) scale(1.280,1)" style="font-size:6.60px;fill:#333;stroke:#333;stroke-width:0.12px;" >I(0.2, 0.3, 0.3, 0.2)</text>
<rect x="912.30" y="591.30" width="15" height="11.05" fill="#00BFC4"/>
<text transform="translate(933.64,600.00) scale(1.280,1)" style="font-size:6.60px;fill:#333;stroke:#333;stroke-width:0.12px;" >II(0.15, 0.35, 0.35, 0.15)</text>
<rect x="912.30" y="603.65" width="15" height="11.05" fill="#C77CFF"/>
<text transform="translate(933.64,612.35) scale(1.280,1)" style="font-size:6.60px;fill:#333;stroke:#333;stroke-width:0.12px;" >III(0.1, 0.3, 0.4, 0.2)</text>
<text transform="translate(82.00,32.00) scale(1.000,1)" style="font-size:15.60px;fill:#111;" >A.</text>
<text transform="translate(81.75,413.40) scale(1.000,1)" style="font-size:15.60px;fill:#111;" >B.</text>
<text transform="translate(21.62,182.40) scale(1.000,1)" style="font-size:13.50px;fill:#222;" >Covariate 1</text>
<text transform="translate(19.70,206.90) scale(1.000,1)" style="font-size:13.70px;fill:#222;" >N0(0, 1) and</text>
<text transform="translate(19.70,223.60) scale(1.000,1)" style="font-size:13.70px;fill:#222;" >N1(1.5, 1)</text>
<text transform="translate(11.22,574.90) scale(1.000,1)" style="font-size:13.50px;fill:#222;" >Covariate 1</text>
<text transform="translate(10.80,599.80) scale(1.000,1)" style="font-size:13.70px;fill:#222;" >N0(40, 2) and</text>
<text transform="translate(10.80,616.50) scale(1.000,1)" style="font-size:13.70px;fill:#222;" >N1(40, 5)</text>
</svg>
</body></html>
